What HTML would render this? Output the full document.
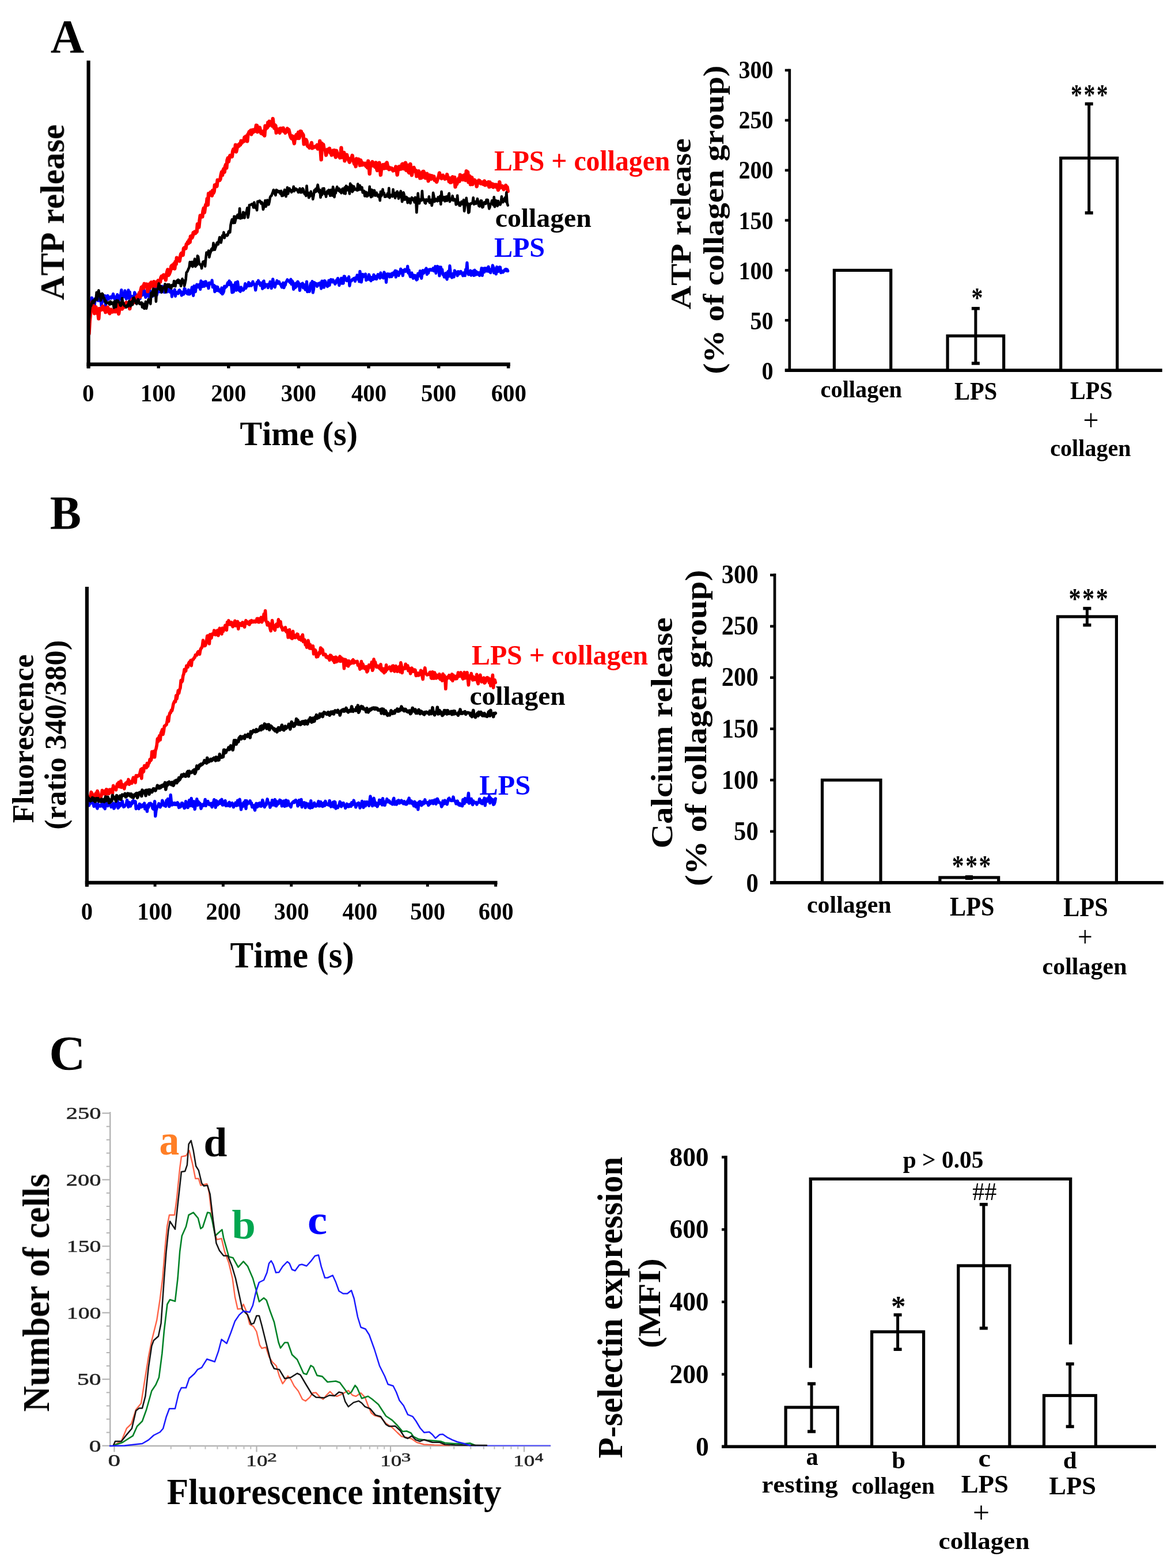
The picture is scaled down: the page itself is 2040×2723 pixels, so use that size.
<!DOCTYPE html>
<html lang="en"><head><meta charset="utf-8"><title>Figure</title>
<style>html,body{margin:0;padding:0;background:#fff;overflow:hidden}body{width:2040px;height:2723px}svg{display:block}text{font-family:"Liberation Serif",serif;font-kerning:none;font-variant-ligatures:none;white-space:pre}</style></head>
<body><svg width="2040" height="2723" viewBox="0 0 2040 2723" role="img" aria-label="Figure panels A, B and C">
<defs><filter id="soft" filterUnits="userSpaceOnUse" x="0" y="0" width="2040" height="2723"><feGaussianBlur stdDeviation="0.5"/></filter></defs>
<rect width="2040" height="2723" fill="#fff"/>
<g filter="url(#soft)">
<polyline points="154.5,540.1 155.7,534.6 156.9,523.8 158.1,527.5 159.3,517.0 160.5,519.2 161.7,528.9 162.9,527.9 164.1,530.5 165.3,518.7 166.5,519.9 167.7,519.9 168.9,520.6 170.1,522.0 171.3,511.8 172.5,522.2 173.7,513.7 174.9,519.1 176.1,531.2 177.3,518.9 178.5,517.6 179.7,523.1 180.9,517.8 182.1,513.6 183.3,531.3 184.5,515.8 185.7,521.0 186.9,513.4 188.1,519.8 189.3,516.4 190.5,516.4 191.7,515.4 192.9,517.8 194.1,516.9 195.3,514.1 196.5,510.5 197.7,515.1 198.9,519.1 200.1,515.8 201.3,515.3 202.5,519.8 203.7,511.6 204.9,513.4 206.1,516.4 207.3,520.5 208.5,518.5 209.7,511.4 210.9,503.5 212.1,514.6 213.3,513.7 214.5,508.8 215.7,515.5 216.9,504.8 218.1,508.8 219.3,519.1 220.5,508.9 221.7,512.3 222.9,503.9 224.1,518.3 225.3,507.2 226.5,523.7 227.7,516.7 228.9,514.6 230.1,523.4 231.3,520.2 232.5,521.4 233.7,507.9 234.9,511.0 236.1,518.5 237.3,512.8 238.5,512.3 239.7,513.9 240.9,511.6 242.1,511.9 243.3,518.4 244.5,510.8 245.7,513.1 246.9,512.6 248.1,505.9 249.3,501.5 250.5,505.0 251.7,512.5 252.9,516.4 254.1,513.9 255.3,510.0 256.5,504.3 257.7,507.1 258.9,516.0 260.1,504.4 261.3,514.7 262.5,507.7 263.7,507.0 264.9,514.6 266.1,512.4 267.3,508.5 268.5,504.1 269.7,494.1 270.9,510.2 272.1,512.5 273.3,508.3 274.5,505.2 275.7,502.3 276.9,506.6 278.1,506.9 279.3,506.2 280.5,506.9 281.7,497.0 282.9,506.2 284.1,504.1 285.3,507.6 286.5,507.0 287.7,501.4 288.9,507.1 290.1,507.0 291.3,502.5 292.5,495.2 293.7,502.0 294.9,507.1 296.1,503.5 297.3,504.0 298.5,515.1 299.7,506.6 300.9,508.1 302.1,507.0 303.3,502.9 304.5,514.3 305.7,507.3 306.9,509.1 308.1,509.4 309.3,509.8 310.5,504.5 311.7,503.8 312.9,507.5 314.1,506.4 315.3,513.0 316.5,508.9 317.7,507.2 318.9,511.0 320.1,501.4 321.3,501.8 322.5,508.4 323.7,506.2 324.9,510.1 326.1,510.5 327.3,503.4 328.5,511.0 329.7,510.8 330.9,505.2 332.1,505.0 333.3,499.0 334.5,507.5 335.7,513.4 336.9,496.5 338.1,502.1 339.3,506.6 340.5,498.6 341.7,494.1 342.9,495.7 344.1,498.5 345.3,496.1 346.5,493.7 347.7,502.5 348.9,487.9 350.1,492.4 351.3,497.8 352.5,490.0 353.7,493.4 354.9,497.2 356.1,489.0 357.3,488.9 358.5,492.0 359.7,496.3 360.9,493.9 362.1,500.7 363.3,491.2 364.5,492.6 365.7,492.7 366.9,493.0 368.1,486.9 369.3,498.7 370.5,495.1 371.7,495.5 372.9,506.7 374.1,497.3 375.3,503.6 376.5,504.5 377.7,498.2 378.9,502.9 380.1,505.2 381.3,503.2 382.5,506.3 383.7,508.3 384.9,499.8 386.1,510.6 387.3,509.1 388.5,506.3 389.7,497.2 390.9,499.8 392.1,497.4 393.3,497.6 394.5,493.4 395.7,490.6 396.9,494.4 398.1,487.8 399.3,494.4 400.5,490.4 401.7,496.0 402.9,508.0 404.1,495.0 405.3,507.2 406.5,498.8 407.7,495.2 408.9,490.7 410.1,504.2 411.3,498.2 412.5,489.2 413.7,497.3 414.9,504.1 416.1,505.0 417.3,506.2 418.5,498.9 419.7,501.5 420.9,503.5 422.1,504.1 423.3,503.0 424.5,499.2 425.7,492.6 426.9,500.5 428.1,494.9 429.3,497.1 430.5,495.6 431.7,490.5 432.9,496.4 434.1,492.4 435.3,494.9 436.5,496.0 437.7,493.7 438.9,489.1 440.1,492.4 441.3,493.8 442.5,495.9 443.7,503.9 444.9,496.8 446.1,490.5 447.3,491.0 448.5,487.2 449.7,492.5 450.9,490.4 452.1,495.7 453.3,491.9 454.5,492.1 455.7,501.5 456.9,489.2 458.1,488.1 459.3,499.2 460.5,493.5 461.7,495.9 462.9,494.3 464.1,494.7 465.3,499.7 466.5,493.4 467.7,496.4 468.9,489.4 470.1,493.3 471.3,500.6 472.5,494.5 473.7,484.8 474.9,490.4 476.1,497.2 477.3,498.7 478.5,493.5 479.7,491.6 480.9,487.4 482.1,492.2 483.3,490.8 484.5,489.3 485.7,492.7 486.9,493.9 488.1,496.0 489.3,498.8 490.5,493.2 491.7,491.3 492.9,499.6 494.1,496.1 495.3,495.1 496.5,489.8 497.7,488.8 498.9,485.7 500.1,487.5 501.3,487.6 502.5,489.4 503.7,490.8 504.9,485.1 506.1,493.7 507.3,487.9 508.5,490.1 509.7,502.4 510.9,492.6 512.1,499.8 513.3,498.9 514.5,491.6 515.7,496.6 516.9,489.0 518.1,490.9 519.3,493.4 520.5,504.4 521.7,494.4 522.9,493.4 524.1,492.7 525.3,492.0 526.5,499.9 527.7,499.4 528.9,494.7 530.1,503.1 531.3,501.1 532.5,489.2 533.7,506.7 534.9,500.2 536.1,502.9 537.3,506.2 538.5,496.2 539.7,491.8 540.9,499.2 542.1,488.7 543.3,508.1 544.5,502.8 545.7,490.5 546.9,492.2 548.1,494.7 549.3,492.5 550.5,497.3 551.7,494.8 552.9,492.4 554.1,494.9 555.3,491.3 556.5,494.1 557.7,501.1 558.9,488.0 560.1,493.5 561.3,488.4 562.5,499.2 563.7,487.7 564.9,488.8 566.1,495.4 567.3,494.8 568.5,497.6 569.7,495.4 570.9,487.0 572.1,495.4 573.3,488.0 574.5,485.4 575.7,487.7 576.9,489.7 578.1,485.9 579.3,489.9 580.5,490.0 581.7,493.2 582.9,491.5 584.1,486.7 585.3,487.1 586.5,483.3 587.7,489.0 588.9,495.6 590.1,488.8 591.3,487.9 592.5,483.2 593.7,492.1 594.9,483.2 596.1,492.1 597.3,479.8 598.5,480.1 599.7,486.3 600.9,484.7 602.1,487.5 603.3,483.7 604.5,487.6 605.7,480.6 606.9,496.3 608.1,489.0 609.3,487.7 610.5,487.6 611.7,485.0 612.9,485.0 614.1,483.5 615.3,483.1 616.5,488.4 617.7,482.2 618.9,483.5 620.1,477.8 621.3,484.9 622.5,480.1 623.7,489.0 624.9,471.3 626.1,477.7 627.3,490.0 628.5,483.5 629.7,476.4 630.9,480.4 632.1,478.8 633.3,479.1 634.5,475.9 635.7,486.7 636.9,483.1 638.1,484.2 639.3,485.0 640.5,476.9 641.7,480.0 642.9,486.0 644.1,487.6 645.3,481.7 646.5,484.8 647.7,485.3 648.9,477.1 650.1,482.6 651.3,484.1 652.5,479.9 653.7,484.7 654.9,481.2 656.1,476.6 657.3,479.2 658.5,477.8 659.7,483.0 660.9,473.9 662.1,480.5 663.3,481.4 664.5,480.9 665.7,482.8 666.9,472.8 668.1,477.2 669.3,475.8 670.5,490.3 671.7,478.2 672.9,475.6 674.1,475.9 675.3,476.1 676.5,480.9 677.7,476.0 678.9,477.9 680.1,480.5 681.3,474.3 682.5,477.5 683.7,473.4 684.9,472.6 686.1,470.2 687.3,481.1 688.5,470.9 689.7,476.4 690.9,477.6 692.1,478.5 693.3,472.2 694.5,474.6 695.7,467.0 696.9,472.4 698.1,471.8 699.3,478.6 700.5,469.3 701.7,471.4 702.9,467.9 704.1,471.4 705.3,470.9 706.5,470.5 707.7,462.4 708.9,474.2 710.1,469.0 711.3,477.3 712.5,480.5 713.7,476.7 714.9,473.9 716.1,480.4 717.3,483.3 718.5,478.0 719.7,479.6 720.9,478.4 722.1,484.1 723.3,486.1 724.5,485.1 725.7,475.1 726.9,475.4 728.1,479.1 729.3,470.5 730.5,473.1 731.7,483.3 732.9,475.5 734.1,469.6 735.3,474.6 736.5,472.9 737.7,469.8 738.9,467.7 740.1,466.0 741.3,476.5 742.5,472.0 743.7,474.3 744.9,468.1 746.1,469.3 747.3,467.7 748.5,468.4 749.7,469.3 750.9,467.7 752.1,465.8 753.3,470.5 754.5,470.0 755.7,462.7 756.9,474.4 758.1,463.8 759.3,462.5 760.5,468.0 761.7,463.6 762.9,479.0 764.1,471.3 765.3,463.9 766.5,473.3 767.7,468.0 768.9,477.0 770.1,477.1 771.3,481.1 772.5,478.2 773.7,474.4 774.9,482.2 776.1,485.1 777.3,472.4 778.5,471.0 779.7,479.8 780.9,461.7 782.1,472.6 783.3,479.3 784.5,482.1 785.7,475.5 786.9,480.9 788.1,480.9 789.3,469.9 790.5,471.9 791.7,473.4 792.9,472.9 794.1,478.8 795.3,471.6 796.5,474.3 797.7,475.6 798.9,471.7 800.1,471.3 801.3,473.9 802.5,475.8 803.7,478.8 804.9,474.0 806.1,473.3 807.3,478.7 808.5,468.1 809.7,469.3 810.9,456.3 812.1,473.5 813.3,476.7 814.5,474.4 815.7,476.4 816.9,470.0 818.1,478.1 819.3,473.8 820.5,475.8 821.7,470.6 822.9,478.5 824.1,469.0 825.3,477.5 826.5,471.4 827.7,472.5 828.9,476.4 830.1,476.0 831.3,473.5 832.5,478.5 833.7,474.0 834.9,472.6 836.1,465.7 837.3,478.4 838.5,466.2 839.7,469.9 840.9,472.5 842.1,465.7 843.3,467.6 844.5,466.1 845.7,471.0 846.9,467.9 848.1,463.2 849.3,471.6 850.5,469.0 851.7,473.7 852.9,467.6 854.1,469.6 855.3,460.9 856.5,463.7 857.7,474.0 858.9,469.5 860.1,467.0 861.3,476.0 862.5,463.7 863.7,465.4 864.9,471.6 866.1,470.6 867.3,463.8 868.5,464.1 869.7,473.7 870.9,471.0 872.1,470.9 873.3,472.8 874.5,471.3 875.7,469.3 876.9,468.1 878.1,467.4 879.3,470.2 880.5,468.0 881.7,470.6" fill="none" stroke="#0000ff" stroke-width="5.2" stroke-linejoin="round" stroke-linecap="round"/>
<polyline points="154.5,579.6 155.7,557.7 156.9,546.4 158.1,535.0 159.3,527.0 160.5,524.3 161.7,532.7 162.9,535.4 164.1,544.3 165.3,536.3 166.5,533.3 167.7,541.8 168.9,544.1 170.1,542.1 171.3,553.2 172.5,535.9 173.7,537.9 174.9,538.3 176.1,535.5 177.3,535.4 178.5,532.1 179.7,537.7 180.9,534.8 182.1,536.7 183.3,542.2 184.5,535.8 185.7,534.3 186.9,533.7 188.1,536.3 189.3,542.3 190.5,544.2 191.7,538.3 192.9,537.5 194.1,541.3 195.3,541.6 196.5,540.7 197.7,540.1 198.9,537.3 200.1,541.2 201.3,538.0 202.5,527.3 203.7,538.6 204.9,541.6 206.1,544.9 207.3,536.7 208.5,527.7 209.7,533.8 210.9,525.8 212.1,536.5 213.3,531.9 214.5,529.4 215.7,529.8 216.9,533.3 218.1,526.6 219.3,525.4 220.5,530.1 221.7,530.3 222.9,526.7 224.1,526.7 225.3,536.1 226.5,526.5 227.7,523.1 228.9,522.0 230.1,519.7 231.3,521.4 232.5,525.4 233.7,519.5 234.9,520.3 236.1,521.5 237.3,515.5 238.5,519.3 239.7,512.3 240.9,514.0 242.1,508.2 243.3,515.7 244.5,503.8 245.7,499.0 246.9,500.4 248.1,497.1 249.3,500.5 250.5,492.8 251.7,496.7 252.9,496.2 254.1,493.5 255.3,494.5 256.5,506.1 257.7,493.9 258.9,500.8 260.1,500.3 261.3,492.1 262.5,490.4 263.7,494.3 264.9,493.2 266.1,497.6 267.3,489.2 268.5,493.8 269.7,491.8 270.9,496.7 272.1,489.8 273.3,490.3 274.5,487.2 275.7,492.4 276.9,487.0 278.1,489.7 279.3,482.4 280.5,479.9 281.7,482.5 282.9,479.1 284.1,477.6 285.3,480.3 286.5,479.3 287.7,486.3 288.9,477.5 290.1,472.2 291.3,468.3 292.5,477.9 293.7,476.2 294.9,473.1 296.1,469.3 297.3,462.7 298.5,461.0 299.7,466.0 300.9,463.5 302.1,458.1 303.3,466.5 304.5,454.8 305.7,458.8 306.9,447.7 308.1,450.7 309.3,450.4 310.5,450.2 311.7,453.3 312.9,446.3 314.1,441.1 315.3,439.7 316.5,441.2 317.7,442.9 318.9,431.5 320.1,430.3 321.3,431.6 322.5,431.4 323.7,423.9 324.9,423.2 326.1,420.2 327.3,422.4 328.5,416.5 329.7,420.6 330.9,410.4 332.1,409.9 333.3,413.1 334.5,410.1 335.7,403.9 336.9,405.9 338.1,402.5 339.3,405.0 340.5,403.5 341.7,402.5 342.9,389.2 344.1,389.9 345.3,394.7 346.5,383.0 347.7,374.5 348.9,375.1 350.1,374.1 351.3,376.5 352.5,366.8 353.7,361.6 354.9,369.0 356.1,360.3 357.3,355.4 358.5,356.3 359.7,345.2 360.9,355.8 362.1,336.3 363.3,339.4 364.5,336.9 365.7,333.8 366.9,338.2 368.1,339.6 369.3,330.8 370.5,335.1 371.7,332.4 372.9,321.4 374.1,322.7 375.3,320.3 376.5,323.4 377.7,312.8 378.9,313.6 380.1,312.7 381.3,313.1 382.5,310.9 383.7,303.6 384.9,298.8 386.1,304.2 387.3,296.1 388.5,293.2 389.7,298.9 390.9,289.3 392.1,285.9 393.3,291.7 394.5,278.2 395.7,274.6 396.9,280.7 398.1,274.4 399.3,270.4 400.5,272.3 401.7,269.7 402.9,271.9 404.1,262.8 405.3,259.2 406.5,261.1 407.7,262.3 408.9,251.6 410.1,263.5 411.3,258.3 412.5,252.0 413.7,252.1 414.9,253.6 416.1,249.8 417.3,251.5 418.5,244.7 419.7,248.3 420.9,245.4 422.1,244.5 423.3,245.3 424.5,238.5 425.7,244.3 426.9,236.7 428.1,238.4 429.3,245.3 430.5,233.3 431.7,231.6 432.9,228.5 434.1,228.2 435.3,226.6 436.5,233.3 437.7,226.1 438.9,230.0 440.1,225.6 441.3,226.7 442.5,228.0 443.7,225.6 444.9,217.7 446.1,218.1 447.3,229.1 448.5,221.6 449.7,225.0 450.9,221.6 452.1,227.2 453.3,231.5 454.5,230.5 455.7,228.6 456.9,233.3 458.1,227.4 459.3,235.5 460.5,218.6 461.7,223.9 462.9,220.7 464.1,221.5 465.3,212.7 466.5,218.6 467.7,210.8 468.9,213.6 470.1,215.5 471.3,214.2 472.5,218.7 473.7,206.3 474.9,217.0 476.1,222.4 477.3,217.2 478.5,218.6 479.7,230.6 480.9,223.9 482.1,227.1 483.3,224.6 484.5,226.6 485.7,230.6 486.9,223.0 488.1,223.1 489.3,226.9 490.5,222.9 491.7,222.5 492.9,228.0 494.1,227.0 495.3,230.8 496.5,226.0 497.7,228.7 498.9,223.3 500.1,228.1 501.3,225.3 502.5,230.0 503.7,234.8 504.9,238.4 506.1,240.3 507.3,236.2 508.5,237.2 509.7,243.6 510.9,249.2 512.1,237.8 513.3,236.6 514.5,234.1 515.7,240.1 516.9,233.9 518.1,229.9 519.3,240.0 520.5,236.3 521.7,228.0 522.9,228.4 524.1,233.3 525.3,232.4 526.5,234.7 527.7,250.3 528.9,241.9 530.1,245.3 531.3,242.7 532.5,245.2 533.7,252.7 534.9,254.4 536.1,254.2 537.3,256.7 538.5,254.7 539.7,253.0 540.9,247.9 542.1,257.4 543.3,256.6 544.5,256.0 545.7,255.2 546.9,254.6 548.1,255.3 549.3,254.2 550.5,251.9 551.7,258.5 552.9,255.4 554.1,257.9 555.3,245.0 556.5,260.1 557.7,277.2 558.9,249.0 560.1,253.9 561.3,251.0 562.5,258.2 563.7,260.1 564.9,261.6 566.1,269.4 567.3,264.1 568.5,259.8 569.7,259.9 570.9,260.0 572.1,257.8 573.3,265.3 574.5,263.0 575.7,269.3 576.9,266.8 578.1,261.5 579.3,264.4 580.5,261.1 581.7,269.6 582.9,273.0 584.1,261.8 585.3,265.8 586.5,268.7 587.7,269.4 588.9,271.7 590.1,273.8 591.3,269.1 592.5,256.8 593.7,273.4 594.9,268.7 596.1,272.0 597.3,264.9 598.5,279.2 599.7,269.1 600.9,271.3 602.1,268.8 603.3,274.0 604.5,276.4 605.7,278.9 606.9,281.6 608.1,275.4 609.3,276.9 610.5,274.2 611.7,270.0 612.9,278.3 614.1,281.1 615.3,284.7 616.5,279.3 617.7,289.0 618.9,275.8 620.1,279.4 621.3,277.7 622.5,276.7 623.7,279.9 624.9,287.1 626.1,278.2 627.3,281.3 628.5,286.5 629.7,284.5 630.9,283.5 632.1,284.7 633.3,286.4 634.5,283.7 635.7,288.7 636.9,287.7 638.1,291.1 639.3,279.8 640.5,285.6 641.7,301.8 642.9,287.0 644.1,286.7 645.3,283.5 646.5,281.1 647.7,287.7 648.9,286.0 650.1,285.9 651.3,290.1 652.5,282.4 653.7,291.6 654.9,295.9 656.1,291.6 657.3,294.0 658.5,282.7 659.7,291.3 660.9,303.9 662.1,292.9 663.3,287.9 664.5,286.5 665.7,290.3 666.9,292.3 668.1,285.6 669.3,291.7 670.5,291.8 671.7,282.5 672.9,287.9 674.1,290.0 675.3,294.2 676.5,293.9 677.7,291.7 678.9,292.5 680.1,292.2 681.3,294.1 682.5,296.5 683.7,294.2 684.9,295.3 686.1,294.3 687.3,289.5 688.5,293.9 689.7,303.6 690.9,294.5 692.1,289.9 693.3,289.2 694.5,293.7 695.7,290.2 696.9,293.2 698.1,285.0 699.3,284.7 700.5,291.7 701.7,293.0 702.9,292.1 704.1,282.6 705.3,295.6 706.5,292.2 707.7,286.8 708.9,297.9 710.1,299.9 711.3,293.3 712.5,285.0 713.7,297.7 714.9,304.2 716.1,296.8 717.3,296.5 718.5,291.0 719.7,294.9 720.9,297.8 722.1,296.2 723.3,306.1 724.5,297.3 725.7,305.4 726.9,297.2 728.1,299.6 729.3,309.3 730.5,308.0 731.7,308.9 732.9,302.2 734.1,298.1 735.3,297.7 736.5,300.3 737.7,308.7 738.9,309.1 740.1,305.9 741.3,301.7 742.5,306.1 743.7,314.3 744.9,306.4 746.1,304.4 747.3,306.4 748.5,310.8 749.7,305.3 750.9,306.3 752.1,307.1 753.3,306.6 754.5,313.0 755.7,313.2 756.9,313.8 758.1,316.0 759.3,312.0 760.5,309.2 761.7,306.4 762.9,300.4 764.1,305.1 765.3,307.9 766.5,309.9 767.7,305.6 768.9,304.6 770.1,308.8 771.3,307.0 772.5,310.8 773.7,307.2 774.9,309.3 776.1,303.1 777.3,310.2 778.5,308.0 779.7,315.1 780.9,313.3 782.1,316.9 783.3,316.7 784.5,308.3 785.7,307.4 786.9,310.6 788.1,315.5 789.3,308.0 790.5,324.6 791.7,318.4 792.9,319.8 794.1,316.6 795.3,312.0 796.5,309.6 797.7,314.9 798.9,303.8 800.1,311.4 801.3,309.9 802.5,305.7 803.7,312.1 804.9,304.7 806.1,307.7 807.3,303.5 808.5,313.1 809.7,297.2 810.9,308.4 812.1,298.6 813.3,316.2 814.5,305.4 815.7,306.3 816.9,320.2 818.1,312.9 819.3,308.3 820.5,320.1 821.7,314.7 822.9,314.9 824.1,312.7 825.3,316.3 826.5,314.8 827.7,323.8 828.9,317.2 830.1,317.7 831.3,313.3 832.5,313.7 833.7,315.7 834.9,318.7 836.1,316.2 837.3,316.6 838.5,319.6 839.7,320.2 840.9,314.4 842.1,321.4 843.3,320.5 844.5,317.3 845.7,320.9 846.9,321.0 848.1,316.0 849.3,324.5 850.5,316.5 851.7,323.9 852.9,319.2 854.1,322.2 855.3,319.6 856.5,325.1 857.7,323.2 858.9,320.9 860.1,322.2 861.3,321.0 862.5,325.6 863.7,321.4 864.9,329.9 866.1,326.4 867.3,316.1 868.5,326.0 869.7,324.5 870.9,323.3 872.1,323.2 873.3,324.7 874.5,328.9 875.7,326.7 876.9,325.4 878.1,322.1 879.3,325.6 880.5,324.9 881.7,332.1" fill="none" stroke="#ff0000" stroke-width="6.4" stroke-linejoin="round" stroke-linecap="round"/>
<polyline points="154.5,559.6 155.7,543.3 156.9,530.9 158.1,531.1 159.3,526.9 160.5,523.1 161.7,522.0 162.9,526.1 164.1,523.5 165.3,519.0 166.5,520.1 167.7,507.8 168.9,520.5 170.1,509.6 171.3,504.3 172.5,513.4 173.7,510.3 174.9,521.7 176.1,518.8 177.3,509.8 178.5,511.1 179.7,516.8 180.9,517.6 182.1,523.4 183.3,522.0 184.5,526.7 185.7,526.0 186.9,525.9 188.1,525.3 189.3,527.6 190.5,528.7 191.7,523.5 192.9,527.7 194.1,527.5 195.3,525.6 196.5,525.8 197.7,534.4 198.9,523.2 200.1,523.5 201.3,533.1 202.5,521.7 203.7,523.2 204.9,522.4 206.1,524.5 207.3,525.5 208.5,530.0 209.7,530.9 210.9,528.6 212.1,518.1 213.3,525.3 214.5,526.5 215.7,530.6 216.9,531.6 218.1,531.3 219.3,533.5 220.5,530.3 221.7,532.2 222.9,528.0 224.1,523.2 225.3,526.8 226.5,531.8 227.7,526.7 228.9,523.4 230.1,529.3 231.3,517.5 232.5,517.2 233.7,519.7 234.9,522.9 236.1,526.2 237.3,527.8 238.5,522.0 239.7,519.7 240.9,522.2 242.1,527.6 243.3,528.0 244.5,526.1 245.7,525.5 246.9,533.4 248.1,527.2 249.3,534.7 250.5,535.7 251.7,530.9 252.9,523.9 254.1,535.8 255.3,529.7 256.5,525.2 257.7,519.9 258.9,523.6 260.1,523.9 261.3,527.8 262.5,508.6 263.7,514.7 264.9,507.6 266.1,501.5 267.3,513.0 268.5,512.7 269.7,502.6 270.9,523.7 272.1,504.3 273.3,502.6 274.5,500.1 275.7,492.3 276.9,495.7 278.1,503.1 279.3,496.9 280.5,507.6 281.7,505.0 282.9,500.0 284.1,498.7 285.3,498.9 286.5,493.3 287.7,507.4 288.9,501.4 290.1,494.4 291.3,494.1 292.5,497.9 293.7,494.2 294.9,495.7 296.1,500.0 297.3,500.5 298.5,495.0 299.7,495.4 300.9,496.6 302.1,488.0 303.3,492.1 304.5,497.2 305.7,489.9 306.9,487.7 308.1,490.6 309.3,485.8 310.5,491.3 311.7,487.2 312.9,490.7 314.1,496.7 315.3,491.3 316.5,484.3 317.7,490.7 318.9,487.2 320.1,496.7 321.3,491.6 322.5,485.8 323.7,473.2 324.9,472.1 326.1,469.7 327.3,466.6 328.5,464.4 329.7,455.1 330.9,459.7 332.1,461.4 333.3,454.8 334.5,463.1 335.7,456.9 336.9,454.9 338.1,449.7 339.3,462.9 340.5,459.7 341.7,460.3 342.9,444.4 344.1,445.6 345.3,454.5 346.5,459.1 347.7,459.8 348.9,459.5 350.1,466.1 351.3,458.8 352.5,454.5 353.7,457.5 354.9,453.7 356.1,462.5 357.3,449.1 358.5,438.5 359.7,441.8 360.9,441.4 362.1,435.4 363.3,446.7 364.5,440.9 365.7,437.8 366.9,432.9 368.1,431.4 369.3,434.4 370.5,422.1 371.7,426.6 372.9,433.7 374.1,430.0 375.3,427.1 376.5,422.1 377.7,420.8 378.9,424.3 380.1,417.6 381.3,412.0 382.5,416.6 383.7,421.3 384.9,415.3 386.1,409.2 387.3,410.8 388.5,403.4 389.7,413.3 390.9,408.5 392.1,408.9 393.3,407.8 394.5,409.3 395.7,407.5 396.9,402.0 398.1,401.3 399.3,403.5 400.5,390.7 401.7,384.9 402.9,381.0 404.1,381.2 405.3,387.2 406.5,375.7 407.7,387.0 408.9,382.1 410.1,376.0 411.3,378.4 412.5,373.1 413.7,377.9 414.9,378.6 416.1,362.0 417.3,379.4 418.5,378.9 419.7,373.4 420.9,378.3 422.1,368.6 423.3,369.3 424.5,378.5 425.7,370.1 426.9,370.4 428.1,367.1 429.3,361.0 430.5,377.8 431.7,371.6 432.9,356.1 434.1,356.1 435.3,355.5 436.5,355.1 437.7,354.1 438.9,355.8 440.1,360.4 441.3,351.5 442.5,357.7 443.7,361.0 444.9,358.5 446.1,365.0 447.3,349.7 448.5,350.8 449.7,349.6 450.9,348.6 452.1,350.3 453.3,353.3 454.5,351.2 455.7,354.4 456.9,363.7 458.1,359.8 459.3,353.8 460.5,348.2 461.7,358.7 462.9,355.6 464.1,347.6 465.3,350.9 466.5,355.3 467.7,350.4 468.9,343.0 470.1,340.5 471.3,339.9 472.5,336.6 473.7,333.7 474.9,329.8 476.1,333.3 477.3,337.1 478.5,339.0 479.7,329.9 480.9,330.4 482.1,333.0 483.3,333.7 484.5,331.9 485.7,333.2 486.9,336.6 488.1,331.5 489.3,340.2 490.5,338.2 491.7,339.6 492.9,333.4 494.1,329.7 495.3,331.3 496.5,341.3 497.7,335.6 498.9,325.6 500.1,336.5 501.3,331.9 502.5,327.3 503.7,329.4 504.9,330.3 506.1,333.8 507.3,330.3 508.5,331.7 509.7,324.0 510.9,332.0 512.1,327.7 513.3,327.5 514.5,329.5 515.7,329.0 516.9,332.1 518.1,334.1 519.3,331.4 520.5,327.3 521.7,334.2 522.9,332.4 524.1,334.0 525.3,327.3 526.5,328.8 527.7,334.0 528.9,337.0 530.1,335.6 531.3,340.1 532.5,322.7 533.7,336.6 534.9,334.4 536.1,343.3 537.3,341.6 538.5,339.7 539.7,332.6 540.9,339.3 542.1,336.7 543.3,345.9 544.5,339.8 545.7,330.6 546.9,333.7 548.1,328.0 549.3,332.5 550.5,326.1 551.7,320.9 552.9,327.7 554.1,333.8 555.3,329.8 556.5,343.0 557.7,336.6 558.9,338.5 560.1,327.5 561.3,328.4 562.5,327.1 563.7,337.0 564.9,334.2 566.1,341.7 567.3,334.0 568.5,331.7 569.7,336.0 570.9,329.9 572.1,335.6 573.3,339.8 574.5,329.8 575.7,336.0 576.9,339.6 578.1,324.5 579.3,329.6 580.5,342.2 581.7,333.9 582.9,335.2 584.1,327.8 585.3,324.4 586.5,330.2 587.7,331.0 588.9,327.7 590.1,332.8 591.3,330.0 592.5,335.3 593.7,329.3 594.9,327.8 596.1,330.0 597.3,335.7 598.5,325.6 599.7,336.4 600.9,322.9 602.1,330.5 603.3,324.5 604.5,328.6 605.7,327.3 606.9,336.5 608.1,318.8 609.3,328.3 610.5,321.6 611.7,333.1 612.9,331.1 614.1,323.6 615.3,326.5 616.5,329.4 617.7,329.0 618.9,327.9 620.1,330.6 621.3,319.6 622.5,329.9 623.7,323.8 624.9,322.1 626.1,329.3 627.3,328.6 628.5,325.5 629.7,334.4 630.9,332.8 632.1,331.6 633.3,340.5 634.5,337.8 635.7,333.6 636.9,340.9 638.1,340.5 639.3,334.8 640.5,338.9 641.7,324.1 642.9,337.1 644.1,342.2 645.3,329.6 646.5,341.0 647.7,330.7 648.9,335.1 650.1,330.7 651.3,339.6 652.5,335.3 653.7,334.7 654.9,339.5 656.1,341.1 657.3,338.4 658.5,340.3 659.7,348.2 660.9,332.9 662.1,340.4 663.3,337.6 664.5,328.9 665.7,336.8 666.9,335.3 668.1,341.8 669.3,341.7 670.5,339.3 671.7,340.9 672.9,335.9 674.1,341.3 675.3,326.8 676.5,343.5 677.7,339.1 678.9,338.8 680.1,338.9 681.3,341.3 682.5,329.1 683.7,338.4 684.9,340.5 686.1,343.8 687.3,334.9 688.5,340.2 689.7,332.6 690.9,336.2 692.1,344.9 693.3,341.0 694.5,335.3 695.7,331.9 696.9,339.7 698.1,350.2 699.3,346.5 700.5,334.2 701.7,338.1 702.9,346.8 704.1,345.4 705.3,342.0 706.5,343.0 707.7,352.2 708.9,346.8 710.1,344.8 711.3,349.3 712.5,353.0 713.7,345.5 714.9,343.2 716.1,343.9 717.3,347.6 718.5,345.5 719.7,351.3 720.9,342.7 722.1,345.6 723.3,369.0 724.5,352.0 725.7,335.9 726.9,348.3 728.1,353.2 729.3,346.5 730.5,347.2 731.7,348.1 732.9,331.8 734.1,347.1 735.3,345.4 736.5,348.0 737.7,352.3 738.9,353.3 740.1,346.4 741.3,348.4 742.5,347.7 743.7,349.4 744.9,341.2 746.1,352.2 747.3,351.7 748.5,347.1 749.7,357.0 750.9,350.9 752.1,334.9 753.3,340.6 754.5,350.1 755.7,345.2 756.9,347.9 758.1,348.2 759.3,349.4 760.5,342.5 761.7,344.3 762.9,348.7 764.1,340.5 765.3,354.8 766.5,332.9 767.7,344.7 768.9,347.6 770.1,344.1 771.3,342.2 772.5,349.4 773.7,342.6 774.9,341.4 776.1,348.7 777.3,342.2 778.5,339.3 779.7,335.8 780.9,350.2 782.1,348.1 783.3,346.4 784.5,346.1 785.7,340.2 786.9,348.1 788.1,347.9 789.3,345.9 790.5,347.0 791.7,355.3 792.9,354.6 794.1,339.5 795.3,353.3 796.5,351.3 797.7,356.9 798.9,357.1 800.1,352.6 801.3,350.2 802.5,354.5 803.7,351.9 804.9,347.2 806.1,366.7 807.3,358.5 808.5,353.1 809.7,343.9 810.9,354.1 812.1,353.1 813.3,369.5 814.5,368.5 815.7,354.7 816.9,353.5 818.1,353.9 819.3,352.8 820.5,352.0 821.7,343.2 822.9,354.8 824.1,352.4 825.3,350.5 826.5,353.7 827.7,350.5 828.9,345.2 830.1,350.8 831.3,357.3 832.5,358.4 833.7,351.0 834.9,348.4 836.1,348.6 837.3,360.1 838.5,359.5 839.7,354.4 840.9,351.5 842.1,352.6 843.3,353.9 844.5,347.1 845.7,346.9 846.9,347.3 848.1,355.1 849.3,362.5 850.5,359.4 851.7,354.2 852.9,352.8 854.1,348.3 855.3,352.6 856.5,356.1 857.7,342.3 858.9,359.2 860.1,347.8 861.3,356.2 862.5,348.7 863.7,357.6 864.9,349.1 866.1,355.2 867.3,353.5 868.5,355.3 869.7,352.2 870.9,341.3 872.1,349.9 873.3,351.0 874.5,346.1 875.7,346.2 876.9,343.1 878.1,350.0 879.3,334.3 880.5,352.7 881.7,356.6" fill="none" stroke="#000000" stroke-width="4.6" stroke-linejoin="round" stroke-linecap="round"/>
<line x1="153.6" y1="105.3" x2="153.6" y2="639.5" stroke="#000" stroke-width="6.2" stroke-linecap="butt"/>
<line x1="150.5" y1="632.7" x2="885.8" y2="632.7" stroke="#000" stroke-width="6.6" stroke-linecap="butt"/>
<line x1="153.6" y1="633.0" x2="153.6" y2="639.6" stroke="#000" stroke-width="5.6" stroke-linecap="butt"/>
<line x1="275.2" y1="633.0" x2="275.2" y2="639.6" stroke="#000" stroke-width="5.6" stroke-linecap="butt"/>
<line x1="396.8" y1="633.0" x2="396.8" y2="639.6" stroke="#000" stroke-width="5.6" stroke-linecap="butt"/>
<line x1="518.4" y1="633.0" x2="518.4" y2="639.6" stroke="#000" stroke-width="5.6" stroke-linecap="butt"/>
<line x1="640.0" y1="633.0" x2="640.0" y2="639.6" stroke="#000" stroke-width="5.6" stroke-linecap="butt"/>
<line x1="761.6" y1="633.0" x2="761.6" y2="639.6" stroke="#000" stroke-width="5.6" stroke-linecap="butt"/>
<line x1="882.6" y1="633.0" x2="882.6" y2="639.6" stroke="#000" stroke-width="5.6" stroke-linecap="butt"/>
<line x1="1370.8" y1="119.8" x2="1370.8" y2="645.5" stroke="#000" stroke-width="4.7" stroke-linecap="butt"/>
<line x1="1362.8" y1="643.1" x2="2017.8" y2="643.1" stroke="#000" stroke-width="5.8" stroke-linecap="butt"/>
<line x1="1362.8" y1="643.1" x2="1370.8" y2="643.1" stroke="#000" stroke-width="4.5" stroke-linecap="butt"/>
<line x1="1362.8" y1="556.2" x2="1370.8" y2="556.2" stroke="#000" stroke-width="4.5" stroke-linecap="butt"/>
<line x1="1362.8" y1="469.4" x2="1370.8" y2="469.4" stroke="#000" stroke-width="4.5" stroke-linecap="butt"/>
<line x1="1362.8" y1="382.6" x2="1370.8" y2="382.6" stroke="#000" stroke-width="4.5" stroke-linecap="butt"/>
<line x1="1362.8" y1="295.7" x2="1370.8" y2="295.7" stroke="#000" stroke-width="4.5" stroke-linecap="butt"/>
<line x1="1362.8" y1="208.9" x2="1370.8" y2="208.9" stroke="#000" stroke-width="4.5" stroke-linecap="butt"/>
<line x1="1362.8" y1="122.0" x2="1370.8" y2="122.0" stroke="#000" stroke-width="4.5" stroke-linecap="butt"/>
<rect x="1448.4" y="469.4" width="98.3" height="173.7" fill="#fff" stroke="#000" stroke-width="5.2"/>
<rect x="1645.1" y="583.3" width="97.6" height="59.8" fill="#fff" stroke="#000" stroke-width="5.2"/>
<line x1="1693.9" y1="535.7" x2="1693.9" y2="631.0" stroke="#000" stroke-width="5" stroke-linecap="butt"/>
<line x1="1686.9" y1="535.7" x2="1700.9" y2="535.7" stroke="#000" stroke-width="5.5" stroke-linecap="butt"/>
<line x1="1686.9" y1="631.0" x2="1700.9" y2="631.0" stroke="#000" stroke-width="5.5" stroke-linecap="butt"/>
<rect x="1841.7" y="274.5" width="98.0" height="368.6" fill="#fff" stroke="#000" stroke-width="5.2"/>
<line x1="1890.7" y1="180.4" x2="1890.7" y2="369.7" stroke="#000" stroke-width="5" stroke-linecap="butt"/>
<line x1="1883.7" y1="180.4" x2="1897.7" y2="180.4" stroke="#000" stroke-width="5.5" stroke-linecap="butt"/>
<line x1="1883.7" y1="369.7" x2="1897.7" y2="369.7" stroke="#000" stroke-width="5.5" stroke-linecap="butt"/>
<polyline points="151.0,1394.6 152.2,1397.2 153.4,1394.4 154.6,1398.7 155.8,1389.2 157.0,1395.0 158.2,1393.8 159.4,1394.1 160.6,1394.1 161.8,1394.6 163.0,1400.3 164.2,1392.2 165.4,1394.4 166.6,1396.5 167.8,1401.2 169.0,1404.0 170.2,1396.2 171.4,1400.4 172.6,1398.9 173.8,1399.9 175.0,1400.0 176.2,1396.7 177.4,1398.8 178.6,1393.7 179.8,1401.7 181.0,1400.8 182.2,1404.5 183.4,1394.7 184.6,1395.2 185.8,1399.4 187.0,1399.5 188.2,1397.5 189.4,1394.2 190.6,1397.3 191.8,1398.1 193.0,1401.4 194.2,1397.9 195.4,1398.5 196.6,1395.1 197.8,1404.1 199.0,1402.2 200.2,1398.1 201.4,1394.4 202.6,1391.8 203.8,1389.2 205.0,1403.2 206.2,1401.6 207.4,1395.0 208.6,1399.7 209.8,1396.9 211.0,1397.7 212.2,1391.1 213.4,1397.5 214.6,1401.2 215.8,1400.8 217.0,1398.7 218.2,1398.0 219.4,1396.1 220.6,1389.4 221.8,1398.0 223.0,1401.2 224.2,1393.5 225.4,1394.9 226.6,1400.0 227.8,1394.3 229.0,1396.0 230.2,1391.3 231.4,1390.3 232.6,1393.8 233.8,1393.6 235.0,1391.9 236.2,1404.5 237.4,1402.8 238.6,1400.1 239.8,1403.1 241.0,1404.3 242.2,1396.1 243.4,1398.4 244.6,1401.5 245.8,1401.3 247.0,1397.9 248.2,1397.7 249.4,1400.5 250.6,1395.0 251.8,1404.9 253.0,1403.8 254.2,1400.1 255.4,1409.1 256.6,1398.0 257.8,1402.1 259.0,1395.4 260.2,1398.3 261.4,1395.1 262.6,1396.7 263.8,1396.9 265.0,1403.8 266.2,1404.9 267.4,1402.8 268.6,1391.7 269.8,1417.3 271.0,1407.3 272.2,1403.4 273.4,1400.9 274.6,1399.1 275.8,1395.6 277.0,1398.1 278.2,1401.7 279.4,1397.8 280.6,1398.4 281.8,1390.2 283.0,1393.1 284.2,1397.8 285.4,1398.9 286.6,1397.3 287.8,1400.3 289.0,1390.3 290.2,1390.9 291.4,1387.5 292.6,1392.9 293.8,1400.6 295.0,1398.1 296.2,1380.4 297.4,1392.5 298.6,1398.0 299.8,1394.4 301.0,1396.1 302.2,1397.1 303.4,1394.5 304.6,1397.3 305.8,1395.6 307.0,1397.4 308.2,1393.8 309.4,1395.4 310.6,1402.4 311.8,1398.0 313.0,1401.4 314.2,1400.2 315.4,1394.8 316.6,1394.7 317.8,1397.4 319.0,1401.1 320.2,1403.4 321.4,1402.3 322.6,1391.8 323.8,1397.5 325.0,1395.4 326.2,1402.4 327.4,1396.0 328.6,1389.7 329.8,1399.3 331.0,1399.1 332.2,1386.4 333.4,1398.2 334.6,1400.1 335.8,1399.4 337.0,1391.8 338.2,1405.4 339.4,1398.4 340.6,1397.7 341.8,1387.8 343.0,1398.4 344.2,1392.0 345.4,1396.7 346.6,1394.5 347.8,1395.8 349.0,1404.2 350.2,1400.5 351.4,1399.0 352.6,1396.8 353.8,1399.0 355.0,1395.0 356.2,1388.4 357.4,1399.4 358.6,1393.8 359.8,1394.4 361.0,1391.6 362.2,1396.6 363.4,1397.4 364.6,1395.5 365.8,1395.2 367.0,1399.2 368.2,1401.4 369.4,1394.2 370.6,1393.8 371.8,1388.7 373.0,1393.5 374.2,1402.2 375.4,1390.4 376.6,1392.3 377.8,1397.9 379.0,1393.0 380.2,1392.4 381.4,1395.4 382.6,1390.2 383.8,1392.3 385.0,1388.3 386.2,1398.0 387.4,1397.8 388.6,1397.2 389.8,1391.9 391.0,1390.6 392.2,1399.4 393.4,1397.7 394.6,1398.9 395.8,1399.0 397.0,1394.4 398.2,1393.4 399.4,1399.9 400.6,1396.6 401.8,1395.2 403.0,1394.6 404.2,1396.7 405.4,1401.7 406.6,1397.4 407.8,1397.5 409.0,1394.1 410.2,1399.0 411.4,1398.9 412.6,1390.2 413.8,1394.1 415.0,1398.0 416.2,1388.3 417.4,1396.1 418.6,1405.8 419.8,1395.9 421.0,1400.6 422.2,1400.2 423.4,1393.5 424.6,1397.9 425.8,1390.5 427.0,1404.2 428.2,1390.7 429.4,1396.4 430.6,1394.6 431.8,1394.4 433.0,1394.2 434.2,1390.7 435.4,1396.2 436.6,1394.5 437.8,1401.6 439.0,1398.5 440.2,1399.0 441.4,1403.4 442.6,1407.0 443.8,1397.4 445.0,1395.3 446.2,1401.6 447.4,1397.7 448.6,1395.7 449.8,1399.7 451.0,1394.5 452.2,1397.8 453.4,1400.2 454.6,1396.5 455.8,1389.4 457.0,1393.9 458.2,1399.0 459.4,1401.5 460.6,1396.4 461.8,1398.1 463.0,1392.5 464.2,1387.8 465.4,1393.3 466.6,1395.0 467.8,1396.2 469.0,1402.1 470.2,1394.4 471.4,1398.6 472.6,1389.7 473.8,1393.5 475.0,1397.9 476.2,1395.7 477.4,1388.6 478.6,1399.4 479.8,1399.7 481.0,1392.0 482.2,1396.6 483.4,1395.0 484.6,1395.0 485.8,1389.3 487.0,1391.7 488.2,1390.8 489.4,1399.8 490.6,1396.1 491.8,1398.1 493.0,1391.0 494.2,1400.4 495.4,1399.2 496.6,1389.8 497.8,1399.4 499.0,1392.6 500.2,1391.0 501.4,1396.1 502.6,1399.0 503.8,1398.5 505.0,1401.5 506.2,1396.1 507.4,1394.3 508.6,1392.9 509.8,1391.9 511.0,1393.6 512.2,1390.4 513.4,1389.6 514.6,1391.7 515.8,1391.9 517.0,1399.8 518.2,1391.7 519.4,1389.5 520.6,1397.3 521.8,1394.2 523.0,1388.4 524.2,1401.5 525.4,1394.6 526.6,1396.1 527.8,1393.7 529.0,1394.4 530.2,1402.5 531.4,1394.8 532.6,1397.6 533.8,1397.0 535.0,1396.2 536.2,1402.1 537.4,1398.4 538.6,1403.2 539.8,1390.7 541.0,1401.6 542.2,1402.3 543.4,1400.4 544.6,1397.4 545.8,1394.3 547.0,1399.9 548.2,1400.0 549.4,1399.8 550.6,1397.5 551.8,1395.5 553.0,1391.5 554.2,1399.9 555.4,1394.9 556.6,1392.5 557.8,1399.5 559.0,1395.0 560.2,1400.5 561.4,1396.3 562.6,1394.0 563.8,1399.2 565.0,1391.3 566.2,1397.2 567.4,1395.8 568.6,1397.4 569.8,1397.8 571.0,1398.2 572.2,1390.5 573.4,1395.2 574.6,1400.9 575.8,1399.1 577.0,1398.0 578.2,1393.3 579.4,1401.3 580.6,1392.3 581.8,1393.1 583.0,1404.0 584.2,1401.9 585.4,1400.8 586.6,1402.5 587.8,1398.9 589.0,1397.4 590.2,1392.3 591.4,1394.4 592.6,1400.8 593.8,1397.7 595.0,1394.9 596.2,1394.6 597.4,1398.5 598.6,1399.7 599.8,1403.3 601.0,1400.5 602.2,1396.1 603.4,1397.8 604.6,1400.7 605.8,1400.8 607.0,1396.9 608.2,1399.8 609.4,1400.2 610.6,1393.7 611.8,1397.9 613.0,1395.7 614.2,1390.1 615.4,1394.7 616.6,1396.3 617.8,1401.8 619.0,1397.2 620.2,1395.7 621.4,1397.7 622.6,1394.4 623.8,1396.5 625.0,1403.0 626.2,1398.8 627.4,1397.2 628.6,1391.4 629.8,1393.9 631.0,1402.4 632.2,1395.1 633.4,1392.6 634.6,1399.6 635.8,1393.2 637.0,1392.6 638.2,1393.6 639.4,1396.4 640.6,1399.3 641.8,1391.8 643.0,1383.0 644.2,1390.4 645.4,1392.7 646.6,1399.5 647.8,1392.6 649.0,1386.2 650.2,1391.1 651.4,1398.4 652.6,1394.0 653.8,1396.4 655.0,1400.7 656.2,1397.8 657.4,1396.4 658.6,1389.3 659.8,1395.2 661.0,1389.9 662.2,1395.2 663.4,1397.8 664.6,1386.6 665.8,1397.9 667.0,1393.8 668.2,1398.3 669.4,1392.2 670.6,1393.3 671.8,1387.6 673.0,1390.7 674.2,1392.6 675.4,1390.6 676.6,1392.0 677.8,1394.8 679.0,1394.4 680.2,1396.0 681.4,1396.7 682.6,1389.4 683.8,1386.2 685.0,1396.8 686.2,1393.1 687.4,1392.5 688.6,1397.0 689.8,1391.0 691.0,1394.0 692.2,1389.8 693.4,1394.8 694.6,1391.1 695.8,1393.0 697.0,1390.1 698.2,1394.1 699.4,1394.2 700.6,1395.7 701.8,1391.7 703.0,1393.6 704.2,1396.7 705.4,1396.9 706.6,1396.0 707.8,1390.6 709.0,1390.3 710.2,1386.1 711.4,1394.7 712.6,1394.5 713.8,1390.8 715.0,1391.9 716.2,1396.1 717.4,1395.7 718.6,1399.6 719.8,1392.2 721.0,1394.4 722.2,1401.2 723.4,1396.6 724.6,1394.8 725.8,1405.7 727.0,1395.3 728.2,1392.3 729.4,1391.9 730.6,1396.9 731.8,1398.6 733.0,1397.0 734.2,1392.8 735.4,1396.0 736.6,1393.8 737.8,1388.8 739.0,1394.1 740.2,1394.0 741.4,1394.4 742.6,1393.5 743.8,1398.4 745.0,1397.1 746.2,1391.0 747.4,1395.3 748.6,1394.0 749.8,1390.8 751.0,1390.7 752.2,1395.7 753.4,1391.0 754.6,1389.3 755.8,1394.9 757.0,1396.1 758.2,1387.8 759.4,1387.2 760.6,1390.0 761.8,1393.5 763.0,1393.4 764.2,1394.4 765.4,1395.5 766.6,1400.9 767.8,1399.1 769.0,1390.9 770.2,1395.9 771.4,1395.9 772.6,1390.1 773.8,1394.3 775.0,1393.6 776.2,1396.7 777.4,1391.6 778.6,1387.2 779.8,1386.2 781.0,1388.6 782.2,1390.0 783.4,1390.4 784.6,1390.5 785.8,1389.0 787.0,1384.1 788.2,1390.0 789.4,1391.1 790.6,1391.4 791.8,1395.8 793.0,1392.9 794.2,1391.0 795.4,1396.7 796.6,1397.9 797.8,1395.3 799.0,1398.6 800.2,1396.7 801.4,1398.1 802.6,1399.6 803.8,1388.8 805.0,1393.8 806.2,1395.5 807.4,1386.4 808.6,1389.6 809.8,1391.9 811.0,1392.4 812.2,1386.6 813.4,1377.5 814.6,1395.0 815.8,1388.6 817.0,1389.9 818.2,1387.3 819.4,1394.5 820.6,1397.5 821.8,1391.0 823.0,1394.3 824.2,1394.3 825.4,1394.3 826.6,1393.4 827.8,1396.9 829.0,1393.9 830.2,1393.9 831.4,1392.7 832.6,1387.4 833.8,1392.6 835.0,1394.5 836.2,1390.8 837.4,1395.8 838.6,1390.1 839.8,1390.7 841.0,1386.1 842.2,1398.7 843.4,1389.3 844.6,1387.4 845.8,1391.6 847.0,1386.7 848.2,1389.0 849.4,1382.6 850.6,1394.6 851.8,1386.0 853.0,1388.4 854.2,1392.4 855.4,1388.5 856.6,1397.2 857.8,1396.4 859.0,1393.5 860.2,1386.9" fill="none" stroke="#0000ff" stroke-width="5.4" stroke-linejoin="round" stroke-linecap="round"/>
<polyline points="151.0,1395.8 152.2,1387.7 153.4,1385.9 154.6,1386.6 155.8,1386.2 157.0,1381.7 158.2,1375.5 159.4,1376.9 160.6,1381.6 161.8,1380.3 163.0,1380.3 164.2,1382.5 165.4,1385.7 166.6,1377.2 167.8,1377.3 169.0,1373.5 170.2,1376.0 171.4,1384.6 172.6,1383.8 173.8,1385.0 175.0,1386.1 176.2,1379.8 177.4,1372.5 178.6,1375.9 179.8,1378.5 181.0,1374.3 182.2,1373.3 183.4,1380.5 184.6,1370.8 185.8,1371.2 187.0,1373.2 188.2,1378.5 189.4,1378.3 190.6,1371.2 191.8,1374.3 193.0,1371.4 194.2,1370.3 195.4,1378.1 196.6,1364.4 197.8,1368.5 199.0,1369.3 200.2,1367.4 201.4,1371.9 202.6,1365.3 203.8,1361.2 205.0,1364.3 206.2,1358.6 207.4,1366.5 208.6,1366.2 209.8,1356.4 211.0,1367.5 212.2,1362.1 213.4,1362.9 214.6,1365.5 215.8,1369.8 217.0,1363.8 218.2,1360.2 219.4,1361.9 220.6,1358.1 221.8,1360.0 223.0,1353.7 224.2,1362.2 225.4,1360.2 226.6,1357.9 227.8,1357.0 229.0,1360.1 230.2,1354.3 231.4,1350.3 232.6,1354.1 233.8,1354.3 235.0,1359.2 236.2,1346.7 237.4,1349.1 238.6,1347.1 239.8,1347.8 241.0,1346.0 242.2,1346.5 243.4,1340.6 244.6,1336.2 245.8,1351.9 247.0,1334.5 248.2,1341.2 249.4,1339.9 250.6,1329.8 251.8,1329.9 253.0,1331.9 254.2,1333.2 255.4,1325.5 256.6,1330.7 257.8,1325.9 259.0,1324.9 260.2,1318.9 261.4,1321.1 262.6,1319.6 263.8,1305.2 265.0,1312.2 266.2,1314.7 267.4,1304.5 268.6,1315.0 269.8,1303.7 271.0,1300.1 272.2,1294.1 273.4,1282.7 274.6,1287.8 275.8,1280.8 277.0,1277.5 278.2,1285.0 279.4,1273.0 280.6,1270.3 281.8,1266.8 283.0,1275.5 284.2,1270.0 285.4,1260.9 286.6,1260.8 287.8,1258.9 289.0,1258.5 290.2,1252.2 291.4,1245.0 292.6,1252.7 293.8,1242.8 295.0,1238.0 296.2,1237.6 297.4,1233.5 298.6,1234.2 299.8,1229.0 301.0,1222.5 302.2,1219.6 303.4,1217.4 304.6,1218.5 305.8,1207.9 307.0,1213.6 308.2,1206.8 309.4,1199.3 310.6,1203.8 311.8,1197.7 313.0,1194.8 314.2,1181.6 315.4,1184.4 316.6,1182.6 317.8,1173.6 319.0,1170.2 320.2,1162.5 321.4,1166.1 322.6,1165.1 323.8,1156.3 325.0,1158.3 326.2,1158.5 327.4,1152.4 328.6,1149.8 329.8,1150.5 331.0,1147.0 332.2,1155.9 333.4,1146.2 334.6,1145.7 335.8,1144.9 337.0,1142.4 338.2,1141.6 339.4,1137.2 340.6,1137.3 341.8,1137.7 343.0,1133.3 344.2,1131.6 345.4,1134.8 346.6,1136.0 347.8,1129.0 349.0,1125.9 350.2,1125.0 351.4,1121.3 352.6,1112.0 353.8,1118.3 355.0,1121.6 356.2,1121.3 357.4,1118.6 358.6,1112.9 359.8,1104.4 361.0,1104.0 362.2,1106.3 363.4,1118.0 364.6,1101.8 365.8,1108.6 367.0,1107.9 368.2,1100.9 369.4,1100.6 370.6,1101.6 371.8,1094.9 373.0,1101.9 374.2,1102.3 375.4,1095.8 376.6,1098.3 377.8,1094.6 379.0,1103.8 380.2,1098.0 381.4,1091.0 382.6,1095.0 383.8,1094.0 385.0,1101.0 386.2,1090.7 387.4,1096.5 388.6,1093.2 389.8,1091.2 391.0,1086.0 392.2,1087.4 393.4,1094.2 394.6,1080.3 395.8,1084.6 397.0,1077.7 398.2,1084.5 399.4,1083.2 400.6,1084.6 401.8,1080.7 403.0,1084.4 404.2,1088.4 405.4,1082.1 406.6,1082.2 407.8,1078.3 409.0,1086.8 410.2,1086.7 411.4,1086.0 412.6,1079.4 413.8,1092.1 415.0,1082.3 416.2,1086.2 417.4,1083.0 418.6,1084.4 419.8,1086.3 421.0,1080.9 422.2,1081.4 423.4,1081.9 424.6,1089.0 425.8,1081.9 427.0,1077.6 428.2,1082.5 429.4,1079.8 430.6,1082.8 431.8,1083.9 433.0,1084.6 434.2,1078.8 435.4,1081.5 436.6,1077.5 437.8,1078.4 439.0,1080.3 440.2,1080.1 441.4,1078.5 442.6,1080.0 443.8,1080.1 445.0,1078.6 446.2,1074.3 447.4,1079.9 448.6,1074.4 449.8,1080.6 451.0,1074.3 452.2,1077.3 453.4,1072.2 454.6,1080.4 455.8,1078.4 457.0,1074.3 458.2,1066.4 459.4,1075.2 460.6,1060.6 461.8,1078.6 463.0,1080.1 464.2,1085.3 465.4,1080.9 466.6,1086.1 467.8,1083.6 469.0,1091.7 470.2,1095.6 471.4,1086.7 472.6,1077.5 473.8,1086.7 475.0,1086.7 476.2,1092.7 477.4,1094.4 478.6,1085.9 479.8,1083.9 481.0,1087.3 482.2,1088.1 483.4,1075.9 484.6,1085.0 485.8,1083.2 487.0,1079.6 488.2,1089.1 489.4,1088.6 490.6,1094.1 491.8,1092.8 493.0,1093.7 494.2,1094.2 495.4,1089.5 496.6,1096.5 497.8,1097.6 499.0,1094.8 500.2,1106.9 501.4,1099.3 502.6,1093.5 503.8,1103.2 505.0,1107.7 506.2,1103.8 507.4,1109.0 508.6,1096.4 509.8,1105.5 511.0,1103.1 512.2,1107.5 513.4,1103.4 514.6,1106.5 515.8,1101.0 517.0,1101.5 518.2,1108.7 519.4,1110.0 520.6,1106.7 521.8,1109.3 523.0,1111.8 524.2,1105.0 525.4,1102.4 526.6,1114.4 527.8,1111.8 529.0,1111.1 530.2,1119.9 531.4,1116.8 532.6,1124.2 533.8,1117.7 535.0,1112.3 536.2,1118.1 537.4,1125.9 538.6,1119.5 539.8,1126.3 541.0,1126.3 542.2,1123.7 543.4,1121.9 544.6,1135.8 545.8,1129.9 547.0,1128.6 548.2,1130.5 549.4,1141.0 550.6,1139.2 551.8,1140.2 553.0,1137.1 554.2,1132.9 555.4,1135.0 556.6,1125.1 557.8,1129.4 559.0,1127.1 560.2,1128.8 561.4,1137.1 562.6,1135.7 563.8,1136.9 565.0,1136.5 566.2,1141.2 567.4,1139.7 568.6,1142.5 569.8,1140.2 571.0,1140.2 572.2,1146.4 573.4,1137.9 574.6,1138.4 575.8,1140.1 577.0,1144.2 578.2,1147.0 579.4,1141.8 580.6,1150.5 581.8,1147.3 583.0,1141.1 584.2,1149.5 585.4,1147.7 586.6,1147.3 587.8,1142.3 589.0,1148.0 590.2,1139.9 591.4,1148.5 592.6,1142.3 593.8,1148.0 595.0,1144.8 596.2,1144.5 597.4,1160.9 598.6,1148.2 599.8,1145.4 601.0,1152.8 602.2,1155.4 603.4,1147.7 604.6,1157.0 605.8,1147.7 607.0,1153.7 608.2,1151.1 609.4,1149.4 610.6,1151.5 611.8,1147.1 613.0,1145.8 614.2,1151.4 615.4,1148.1 616.6,1149.2 617.8,1150.1 619.0,1149.8 620.2,1148.4 621.4,1155.2 622.6,1154.3 623.8,1156.8 625.0,1162.1 626.2,1160.6 627.4,1148.5 628.6,1160.3 629.8,1152.9 631.0,1156.1 632.2,1158.9 633.4,1161.3 634.6,1158.5 635.8,1157.6 637.0,1166.9 638.2,1165.5 639.4,1160.3 640.6,1154.9 641.8,1157.8 643.0,1158.5 644.2,1155.8 645.4,1149.9 646.6,1164.3 647.8,1161.5 649.0,1144.9 650.2,1151.9 651.4,1149.7 652.6,1155.5 653.8,1158.5 655.0,1157.8 656.2,1156.5 657.4,1159.5 658.6,1160.0 659.8,1161.7 661.0,1153.7 662.2,1164.1 663.4,1160.8 664.6,1166.0 665.8,1161.4 667.0,1168.6 668.2,1161.0 669.4,1166.4 670.6,1154.9 671.8,1163.3 673.0,1160.4 674.2,1160.1 675.4,1160.8 676.6,1158.2 677.8,1159.4 679.0,1165.0 680.2,1163.6 681.4,1156.5 682.6,1156.1 683.8,1164.5 685.0,1165.9 686.2,1161.3 687.4,1156.7 688.6,1162.5 689.8,1166.1 691.0,1159.2 692.2,1162.6 693.4,1157.3 694.6,1167.0 695.8,1150.9 697.0,1155.6 698.2,1168.4 699.4,1159.5 700.6,1161.1 701.8,1161.0 703.0,1161.1 704.2,1153.3 705.4,1156.8 706.6,1161.0 707.8,1156.0 709.0,1164.8 710.2,1160.2 711.4,1163.4 712.6,1169.8 713.8,1164.8 715.0,1160.2 716.2,1162.4 717.4,1166.2 718.6,1164.7 719.8,1163.1 721.0,1163.6 722.2,1173.4 723.4,1169.7 724.6,1172.9 725.8,1168.9 727.0,1172.9 728.2,1171.5 729.4,1170.6 730.6,1164.3 731.8,1165.3 733.0,1174.2 734.2,1179.6 735.4,1167.7 736.6,1166.0 737.8,1159.9 739.0,1168.3 740.2,1170.1 741.4,1172.1 742.6,1171.5 743.8,1171.5 745.0,1170.7 746.2,1167.5 747.4,1167.3 748.6,1177.7 749.8,1178.1 751.0,1166.8 752.2,1174.5 753.4,1178.1 754.6,1168.0 755.8,1176.0 757.0,1177.8 758.2,1172.2 759.4,1174.2 760.6,1176.9 761.8,1176.8 763.0,1170.7 764.2,1179.7 765.4,1176.9 766.6,1176.5 767.8,1182.1 769.0,1170.4 770.2,1176.8 771.4,1173.1 772.6,1176.5 773.8,1196.3 775.0,1176.9 776.2,1178.6 777.4,1175.5 778.6,1176.4 779.8,1172.6 781.0,1177.4 782.2,1174.7 783.4,1179.6 784.6,1170.8 785.8,1182.3 787.0,1172.4 788.2,1176.9 789.4,1177.8 790.6,1178.9 791.8,1174.3 793.0,1178.6 794.2,1176.1 795.4,1168.1 796.6,1168.7 797.8,1174.4 799.0,1171.9 800.2,1167.9 801.4,1174.6 802.6,1176.3 803.8,1179.0 805.0,1177.9 806.2,1167.6 807.4,1177.8 808.6,1170.0 809.8,1176.1 811.0,1167.7 812.2,1178.4 813.4,1189.6 814.6,1178.0 815.8,1173.6 817.0,1177.7 818.2,1169.6 819.4,1176.3 820.6,1181.0 821.8,1175.3 823.0,1180.5 824.2,1178.6 825.4,1180.0 826.6,1179.0 827.8,1171.3 829.0,1184.2 830.2,1187.4 831.4,1178.6 832.6,1174.5 833.8,1172.2 835.0,1180.1 836.2,1184.1 837.4,1180.2 838.6,1182.6 839.8,1177.0 841.0,1186.2 842.2,1185.6 843.4,1183.0 844.6,1177.4 845.8,1176.6 847.0,1178.9 848.2,1177.8 849.4,1185.8 850.6,1179.2 851.8,1190.9 853.0,1189.1 854.2,1180.0 855.4,1172.2 856.6,1194.2 857.8,1180.5 859.0,1180.7 860.2,1185.3" fill="none" stroke="#ff0000" stroke-width="5.6" stroke-linejoin="round" stroke-linecap="round"/>
<polyline points="151.0,1394.9 152.2,1384.0 153.4,1386.3 154.6,1386.8 155.8,1389.1 157.0,1390.9 158.2,1389.7 159.4,1389.8 160.6,1385.4 161.8,1388.5 163.0,1390.2 164.2,1386.9 165.4,1392.0 166.6,1388.9 167.8,1386.7 169.0,1387.3 170.2,1386.7 171.4,1391.5 172.6,1389.9 173.8,1389.6 175.0,1391.7 176.2,1387.8 177.4,1391.3 178.6,1390.1 179.8,1388.7 181.0,1392.0 182.2,1390.0 183.4,1383.9 184.6,1390.4 185.8,1386.3 187.0,1384.1 188.2,1386.8 189.4,1394.0 190.6,1393.0 191.8,1392.6 193.0,1388.7 194.2,1390.1 195.4,1381.3 196.6,1386.6 197.8,1384.2 199.0,1385.7 200.2,1387.0 201.4,1391.2 202.6,1381.6 203.8,1383.9 205.0,1384.9 206.2,1385.2 207.4,1387.6 208.6,1382.2 209.8,1388.1 211.0,1382.6 212.2,1380.3 213.4,1381.4 214.6,1380.6 215.8,1381.2 217.0,1378.4 218.2,1383.9 219.4,1383.1 220.6,1381.9 221.8,1378.1 223.0,1378.4 224.2,1380.8 225.4,1379.0 226.6,1382.6 227.8,1379.0 229.0,1384.1 230.2,1382.4 231.4,1385.2 232.6,1380.6 233.8,1381.6 235.0,1379.4 236.2,1378.2 237.4,1377.7 238.6,1385.3 239.8,1381.4 241.0,1377.2 242.2,1376.6 243.4,1376.2 244.6,1375.6 245.8,1382.4 247.0,1372.0 248.2,1377.4 249.4,1374.7 250.6,1375.9 251.8,1373.5 253.0,1381.7 254.2,1372.4 255.4,1373.9 256.6,1374.7 257.8,1372.0 259.0,1379.3 260.2,1371.7 261.4,1372.6 262.6,1373.9 263.8,1375.5 265.0,1373.5 266.2,1369.7 267.4,1369.8 268.6,1370.6 269.8,1373.1 271.0,1370.2 272.2,1368.5 273.4,1364.1 274.6,1367.7 275.8,1368.7 277.0,1365.5 278.2,1368.2 279.4,1367.3 280.6,1364.1 281.8,1365.8 283.0,1365.6 284.2,1362.5 285.4,1364.4 286.6,1359.2 287.8,1370.9 289.0,1363.5 290.2,1364.1 291.4,1359.0 292.6,1361.9 293.8,1357.9 295.0,1361.3 296.2,1361.7 297.4,1362.7 298.6,1358.5 299.8,1360.4 301.0,1364.2 302.2,1361.4 303.4,1356.2 304.6,1356.2 305.8,1355.2 307.0,1359.6 308.2,1354.7 309.4,1356.4 310.6,1350.8 311.8,1354.1 313.0,1351.9 314.2,1349.1 315.4,1345.6 316.6,1348.3 317.8,1346.7 319.0,1344.5 320.2,1346.0 321.4,1348.1 322.6,1348.1 323.8,1344.3 325.0,1341.6 326.2,1339.7 327.4,1347.9 328.6,1339.2 329.8,1341.8 331.0,1342.0 332.2,1341.4 333.4,1341.3 334.6,1339.0 335.8,1338.1 337.0,1337.0 338.2,1343.4 339.4,1341.1 340.6,1336.3 341.8,1330.2 343.0,1332.7 344.2,1334.9 345.4,1331.1 346.6,1328.3 347.8,1329.7 349.0,1327.0 350.2,1328.0 351.4,1327.2 352.6,1325.5 353.8,1324.5 355.0,1320.7 356.2,1321.3 357.4,1324.4 358.6,1325.2 359.8,1316.2 361.0,1321.4 362.2,1323.0 363.4,1321.5 364.6,1321.6 365.8,1318.5 367.0,1321.1 368.2,1320.3 369.4,1317.6 370.6,1317.6 371.8,1316.1 373.0,1318.0 374.2,1320.9 375.4,1314.9 376.6,1320.0 377.8,1315.6 379.0,1320.0 380.2,1319.6 381.4,1309.9 382.6,1315.3 383.8,1314.4 385.0,1315.1 386.2,1313.3 387.4,1314.4 388.6,1302.2 389.8,1302.7 391.0,1307.4 392.2,1306.7 393.4,1303.0 394.6,1302.3 395.8,1301.9 397.0,1298.1 398.2,1301.7 399.4,1299.8 400.6,1295.0 401.8,1298.5 403.0,1298.1 404.2,1302.4 405.4,1295.2 406.6,1285.8 407.8,1291.1 409.0,1285.8 410.2,1292.5 411.4,1286.4 412.6,1286.2 413.8,1288.2 415.0,1281.8 416.2,1280.5 417.4,1279.0 418.6,1283.3 419.8,1279.7 421.0,1281.6 422.2,1279.3 423.4,1280.3 424.6,1282.6 425.8,1276.7 427.0,1277.6 428.2,1278.2 429.4,1279.1 430.6,1275.2 431.8,1277.8 433.0,1277.8 434.2,1280.9 435.4,1270.6 436.6,1274.2 437.8,1271.9 439.0,1270.7 440.2,1268.4 441.4,1270.3 442.6,1269.3 443.8,1270.8 445.0,1266.8 446.2,1270.1 447.4,1268.6 448.6,1268.7 449.8,1267.5 451.0,1265.2 452.2,1261.9 453.4,1267.6 454.6,1260.5 455.8,1262.7 457.0,1265.6 458.2,1261.3 459.4,1257.1 460.6,1260.6 461.8,1260.3 463.0,1265.2 464.2,1258.7 465.4,1264.4 466.6,1258.3 467.8,1267.5 469.0,1262.0 470.2,1260.7 471.4,1262.0 472.6,1263.3 473.8,1264.6 475.0,1266.7 476.2,1265.5 477.4,1269.2 478.6,1266.6 479.8,1268.8 481.0,1271.1 482.2,1265.7 483.4,1263.7 484.6,1266.5 485.8,1268.0 487.0,1263.5 488.2,1263.6 489.4,1259.3 490.6,1266.7 491.8,1262.3 493.0,1267.9 494.2,1264.0 495.4,1261.2 496.6,1265.1 497.8,1263.5 499.0,1262.8 500.2,1262.1 501.4,1257.7 502.6,1259.5 503.8,1266.2 505.0,1260.9 506.2,1253.8 507.4,1256.3 508.6,1256.9 509.8,1261.6 511.0,1261.0 512.2,1256.2 513.4,1257.7 514.6,1248.6 515.8,1256.6 517.0,1250.7 518.2,1258.0 519.4,1254.2 520.6,1255.3 521.8,1258.4 523.0,1256.8 524.2,1253.5 525.4,1256.3 526.6,1253.0 527.8,1254.8 529.0,1257.5 530.2,1252.0 531.4,1252.3 532.6,1256.5 533.8,1257.3 535.0,1253.7 536.2,1250.2 537.4,1252.1 538.6,1246.5 539.8,1248.7 541.0,1254.2 542.2,1253.3 543.4,1247.2 544.6,1252.8 545.8,1252.4 547.0,1245.6 548.2,1246.4 549.4,1241.6 550.6,1247.6 551.8,1246.3 553.0,1243.9 554.2,1245.9 555.4,1239.9 556.6,1240.2 557.8,1243.4 559.0,1239.9 560.2,1244.6 561.4,1239.5 562.6,1237.0 563.8,1237.7 565.0,1238.0 566.2,1239.6 567.4,1240.4 568.6,1239.8 569.8,1236.9 571.0,1240.7 572.2,1242.1 573.4,1238.0 574.6,1236.4 575.8,1239.3 577.0,1236.0 578.2,1236.1 579.4,1240.0 580.6,1236.4 581.8,1234.1 583.0,1235.5 584.2,1236.5 585.4,1237.0 586.6,1233.5 587.8,1236.7 589.0,1236.3 590.2,1241.9 591.4,1237.6 592.6,1234.2 593.8,1233.2 595.0,1234.5 596.2,1232.1 597.4,1235.1 598.6,1232.1 599.8,1234.2 601.0,1229.7 602.2,1232.6 603.4,1235.6 604.6,1236.8 605.8,1235.2 607.0,1233.6 608.2,1233.8 609.4,1235.0 610.6,1227.0 611.8,1234.0 613.0,1235.4 614.2,1232.5 615.4,1233.0 616.6,1233.0 617.8,1234.0 619.0,1228.5 620.2,1232.4 621.4,1225.2 622.6,1237.3 623.8,1235.0 625.0,1228.9 626.2,1230.7 627.4,1226.7 628.6,1228.2 629.8,1227.7 631.0,1231.5 632.2,1230.6 633.4,1231.6 634.6,1232.0 635.8,1236.2 637.0,1230.0 638.2,1235.5 639.4,1236.7 640.6,1232.9 641.8,1233.9 643.0,1231.1 644.2,1232.6 645.4,1231.4 646.6,1229.7 647.8,1230.1 649.0,1229.1 650.2,1231.4 651.4,1231.4 652.6,1229.5 653.8,1230.8 655.0,1230.1 656.2,1233.2 657.4,1233.1 658.6,1233.4 659.8,1232.4 661.0,1232.0 662.2,1238.8 663.4,1231.0 664.6,1236.0 665.8,1231.7 667.0,1239.6 668.2,1235.6 669.4,1234.5 670.6,1236.8 671.8,1240.8 673.0,1242.3 674.2,1239.7 675.4,1240.6 676.6,1241.8 677.8,1238.9 679.0,1234.0 680.2,1238.1 681.4,1239.1 682.6,1236.2 683.8,1235.9 685.0,1238.5 686.2,1233.8 687.4,1234.0 688.6,1234.6 689.8,1231.2 691.0,1235.2 692.2,1232.5 693.4,1234.6 694.6,1231.2 695.8,1232.8 697.0,1227.2 698.2,1232.1 699.4,1233.1 700.6,1231.2 701.8,1234.6 703.0,1233.6 704.2,1231.8 705.4,1234.8 706.6,1235.4 707.8,1236.4 709.0,1234.6 710.2,1236.7 711.4,1234.1 712.6,1239.6 713.8,1238.2 715.0,1235.4 716.2,1229.6 717.4,1232.6 718.6,1232.7 719.8,1235.6 721.0,1232.2 722.2,1238.4 723.4,1235.5 724.6,1238.4 725.8,1235.2 727.0,1232.6 728.2,1237.2 729.4,1239.6 730.6,1235.0 731.8,1237.3 733.0,1236.5 734.2,1239.2 735.4,1240.2 736.6,1240.9 737.8,1236.9 739.0,1238.4 740.2,1236.4 741.4,1237.8 742.6,1238.1 743.8,1237.5 745.0,1240.1 746.2,1234.8 747.4,1237.8 748.6,1239.5 749.8,1237.5 751.0,1228.9 752.2,1238.1 753.4,1239.5 754.6,1241.5 755.8,1237.1 757.0,1237.1 758.2,1235.1 759.4,1228.3 760.6,1239.9 761.8,1239.6 763.0,1233.8 764.2,1236.7 765.4,1236.3 766.6,1239.6 767.8,1242.5 769.0,1241.5 770.2,1240.2 771.4,1233.8 772.6,1238.9 773.8,1234.0 775.0,1236.9 776.2,1240.0 777.4,1233.9 778.6,1236.5 779.8,1239.2 781.0,1237.0 782.2,1238.3 783.4,1235.5 784.6,1240.7 785.8,1238.7 787.0,1235.0 788.2,1240.0 789.4,1235.0 790.6,1239.2 791.8,1239.2 793.0,1239.5 794.2,1239.5 795.4,1242.1 796.6,1236.9 797.8,1237.8 799.0,1232.2 800.2,1239.1 801.4,1236.7 802.6,1239.1 803.8,1238.4 805.0,1238.0 806.2,1236.1 807.4,1235.8 808.6,1240.4 809.8,1238.0 811.0,1238.1 812.2,1237.4 813.4,1238.1 814.6,1238.3 815.8,1238.3 817.0,1242.4 818.2,1241.2 819.4,1244.5 820.6,1237.8 821.8,1233.7 823.0,1242.4 824.2,1244.2 825.4,1245.6 826.6,1242.0 827.8,1241.0 829.0,1238.5 830.2,1243.1 831.4,1236.7 832.6,1240.0 833.8,1240.5 835.0,1236.7 836.2,1239.9 837.4,1242.8 838.6,1239.5 839.8,1242.9 841.0,1238.8 842.2,1243.2 843.4,1243.4 844.6,1241.6 845.8,1244.3 847.0,1242.0 848.2,1236.7 849.4,1235.4 850.6,1243.1 851.8,1233.5 853.0,1240.7 854.2,1239.4 855.4,1239.8 856.6,1244.6 857.8,1238.7 859.0,1239.5 860.2,1238.5" fill="none" stroke="#000000" stroke-width="5.6" stroke-linejoin="round" stroke-linecap="round"/>
<line x1="150.9" y1="1019.0" x2="150.9" y2="1539.7" stroke="#000" stroke-width="6.2" stroke-linecap="butt"/>
<line x1="147.8" y1="1532.8" x2="863.5" y2="1532.8" stroke="#000" stroke-width="6.2" stroke-linecap="butt"/>
<line x1="150.8" y1="1532.8" x2="150.8" y2="1539.7" stroke="#000" stroke-width="5" stroke-linecap="butt"/>
<line x1="269.1" y1="1532.8" x2="269.1" y2="1539.7" stroke="#000" stroke-width="5" stroke-linecap="butt"/>
<line x1="387.4" y1="1532.8" x2="387.4" y2="1539.7" stroke="#000" stroke-width="5" stroke-linecap="butt"/>
<line x1="505.7" y1="1532.8" x2="505.7" y2="1539.7" stroke="#000" stroke-width="5" stroke-linecap="butt"/>
<line x1="624.0" y1="1532.8" x2="624.0" y2="1539.7" stroke="#000" stroke-width="5" stroke-linecap="butt"/>
<line x1="742.3" y1="1532.8" x2="742.3" y2="1539.7" stroke="#000" stroke-width="5" stroke-linecap="butt"/>
<line x1="860.6" y1="1532.8" x2="860.6" y2="1539.7" stroke="#000" stroke-width="5" stroke-linecap="butt"/>
<line x1="1345.0" y1="996.0" x2="1345.0" y2="1535.1" stroke="#000" stroke-width="4.7" stroke-linecap="butt"/>
<line x1="1337.0" y1="1532.8" x2="2020.0" y2="1532.8" stroke="#000" stroke-width="5.8" stroke-linecap="butt"/>
<line x1="1337.0" y1="1532.8" x2="1345.0" y2="1532.8" stroke="#000" stroke-width="4.5" stroke-linecap="butt"/>
<line x1="1337.0" y1="1443.8" x2="1345.0" y2="1443.8" stroke="#000" stroke-width="4.5" stroke-linecap="butt"/>
<line x1="1337.0" y1="1354.7" x2="1345.0" y2="1354.7" stroke="#000" stroke-width="4.5" stroke-linecap="butt"/>
<line x1="1337.0" y1="1265.7" x2="1345.0" y2="1265.7" stroke="#000" stroke-width="4.5" stroke-linecap="butt"/>
<line x1="1337.0" y1="1176.7" x2="1345.0" y2="1176.7" stroke="#000" stroke-width="4.5" stroke-linecap="butt"/>
<line x1="1337.0" y1="1087.6" x2="1345.0" y2="1087.6" stroke="#000" stroke-width="4.5" stroke-linecap="butt"/>
<line x1="1337.0" y1="998.6" x2="1345.0" y2="998.6" stroke="#000" stroke-width="4.5" stroke-linecap="butt"/>
<rect x="1427.5" y="1354.7" width="101.5" height="178.1" fill="#fff" stroke="#000" stroke-width="5.2"/>
<rect x="1631.9" y="1523.9" width="101.8" height="8.9" fill="#fff" stroke="#000" stroke-width="5.2"/>
<rect x="1836.4" y="1070.9" width="102.0" height="461.9" fill="#fff" stroke="#000" stroke-width="5.2"/>
<line x1="1887.4" y1="1056.6" x2="1887.4" y2="1085.5" stroke="#000" stroke-width="5" stroke-linecap="butt"/>
<line x1="1880.4" y1="1056.6" x2="1894.4" y2="1056.6" stroke="#000" stroke-width="5.5" stroke-linecap="butt"/>
<line x1="1880.4" y1="1085.5" x2="1894.4" y2="1085.5" stroke="#000" stroke-width="5.5" stroke-linecap="butt"/>
<line x1="1676.0" y1="1524.0" x2="1689.0" y2="1524.0" stroke="#000" stroke-width="8" stroke-linecap="butt"/>
<line x1="191.2" y1="1931.0" x2="191.2" y2="2512.0" stroke="#b4b4b4" stroke-width="2.4" stroke-linecap="butt"/>
<line x1="190.0" y1="2511.0" x2="956.2" y2="2511.0" stroke="#b4b4b4" stroke-width="2.4" stroke-linecap="butt"/>
<line x1="177.4" y1="2510.7" x2="191.2" y2="2510.7" stroke="#b4b4b4" stroke-width="2.2" stroke-linecap="butt"/>
<line x1="184.7" y1="2487.6" x2="191.2" y2="2487.6" stroke="#b4b4b4" stroke-width="2.0" stroke-linecap="butt"/>
<line x1="184.7" y1="2464.5" x2="191.2" y2="2464.5" stroke="#b4b4b4" stroke-width="2.0" stroke-linecap="butt"/>
<line x1="184.7" y1="2441.4" x2="191.2" y2="2441.4" stroke="#b4b4b4" stroke-width="2.0" stroke-linecap="butt"/>
<line x1="184.7" y1="2418.3" x2="191.2" y2="2418.3" stroke="#b4b4b4" stroke-width="2.0" stroke-linecap="butt"/>
<line x1="177.4" y1="2395.2" x2="191.2" y2="2395.2" stroke="#b4b4b4" stroke-width="2.2" stroke-linecap="butt"/>
<line x1="184.7" y1="2372.1" x2="191.2" y2="2372.1" stroke="#b4b4b4" stroke-width="2.0" stroke-linecap="butt"/>
<line x1="184.7" y1="2349.0" x2="191.2" y2="2349.0" stroke="#b4b4b4" stroke-width="2.0" stroke-linecap="butt"/>
<line x1="184.7" y1="2325.9" x2="191.2" y2="2325.9" stroke="#b4b4b4" stroke-width="2.0" stroke-linecap="butt"/>
<line x1="184.7" y1="2302.8" x2="191.2" y2="2302.8" stroke="#b4b4b4" stroke-width="2.0" stroke-linecap="butt"/>
<line x1="177.4" y1="2279.7" x2="191.2" y2="2279.7" stroke="#b4b4b4" stroke-width="2.2" stroke-linecap="butt"/>
<line x1="184.7" y1="2256.6" x2="191.2" y2="2256.6" stroke="#b4b4b4" stroke-width="2.0" stroke-linecap="butt"/>
<line x1="184.7" y1="2233.5" x2="191.2" y2="2233.5" stroke="#b4b4b4" stroke-width="2.0" stroke-linecap="butt"/>
<line x1="184.7" y1="2210.4" x2="191.2" y2="2210.4" stroke="#b4b4b4" stroke-width="2.0" stroke-linecap="butt"/>
<line x1="184.7" y1="2187.3" x2="191.2" y2="2187.3" stroke="#b4b4b4" stroke-width="2.0" stroke-linecap="butt"/>
<line x1="177.4" y1="2164.2" x2="191.2" y2="2164.2" stroke="#b4b4b4" stroke-width="2.2" stroke-linecap="butt"/>
<line x1="184.7" y1="2141.1" x2="191.2" y2="2141.1" stroke="#b4b4b4" stroke-width="2.0" stroke-linecap="butt"/>
<line x1="184.7" y1="2118.0" x2="191.2" y2="2118.0" stroke="#b4b4b4" stroke-width="2.0" stroke-linecap="butt"/>
<line x1="184.7" y1="2094.9" x2="191.2" y2="2094.9" stroke="#b4b4b4" stroke-width="2.0" stroke-linecap="butt"/>
<line x1="184.7" y1="2071.8" x2="191.2" y2="2071.8" stroke="#b4b4b4" stroke-width="2.0" stroke-linecap="butt"/>
<line x1="177.4" y1="2048.7" x2="191.2" y2="2048.7" stroke="#b4b4b4" stroke-width="2.2" stroke-linecap="butt"/>
<line x1="184.7" y1="2025.6" x2="191.2" y2="2025.6" stroke="#b4b4b4" stroke-width="2.0" stroke-linecap="butt"/>
<line x1="184.7" y1="2002.5" x2="191.2" y2="2002.5" stroke="#b4b4b4" stroke-width="2.0" stroke-linecap="butt"/>
<line x1="184.7" y1="1979.4" x2="191.2" y2="1979.4" stroke="#b4b4b4" stroke-width="2.0" stroke-linecap="butt"/>
<line x1="184.7" y1="1956.3" x2="191.2" y2="1956.3" stroke="#b4b4b4" stroke-width="2.0" stroke-linecap="butt"/>
<line x1="177.4" y1="1933.2" x2="191.2" y2="1933.2" stroke="#b4b4b4" stroke-width="2.2" stroke-linecap="butt"/>
<line x1="296.8" y1="2511.0" x2="296.8" y2="2516.6" stroke="#bdbdbd" stroke-width="2.0" stroke-linecap="butt"/>
<line x1="330.3" y1="2511.0" x2="330.3" y2="2516.6" stroke="#bdbdbd" stroke-width="2.0" stroke-linecap="butt"/>
<line x1="356.5" y1="2511.0" x2="356.5" y2="2516.6" stroke="#bdbdbd" stroke-width="2.0" stroke-linecap="butt"/>
<line x1="377.4" y1="2511.0" x2="377.4" y2="2516.6" stroke="#bdbdbd" stroke-width="2.0" stroke-linecap="butt"/>
<line x1="395.5" y1="2511.0" x2="395.5" y2="2516.6" stroke="#bdbdbd" stroke-width="2.0" stroke-linecap="butt"/>
<line x1="410.0" y1="2511.0" x2="410.0" y2="2516.6" stroke="#bdbdbd" stroke-width="2.0" stroke-linecap="butt"/>
<line x1="423.5" y1="2511.0" x2="423.5" y2="2516.6" stroke="#bdbdbd" stroke-width="2.0" stroke-linecap="butt"/>
<line x1="435.3" y1="2511.0" x2="435.3" y2="2516.6" stroke="#bdbdbd" stroke-width="2.0" stroke-linecap="butt"/>
<line x1="515.1" y1="2511.0" x2="515.1" y2="2516.6" stroke="#bdbdbd" stroke-width="2.0" stroke-linecap="butt"/>
<line x1="555.9" y1="2511.0" x2="555.9" y2="2516.6" stroke="#bdbdbd" stroke-width="2.0" stroke-linecap="butt"/>
<line x1="584.8" y1="2511.0" x2="584.8" y2="2516.6" stroke="#bdbdbd" stroke-width="2.0" stroke-linecap="butt"/>
<line x1="607.5" y1="2511.0" x2="607.5" y2="2516.6" stroke="#bdbdbd" stroke-width="2.0" stroke-linecap="butt"/>
<line x1="626.5" y1="2511.0" x2="626.5" y2="2516.6" stroke="#bdbdbd" stroke-width="2.0" stroke-linecap="butt"/>
<line x1="641.9" y1="2511.0" x2="641.9" y2="2516.6" stroke="#bdbdbd" stroke-width="2.0" stroke-linecap="butt"/>
<line x1="655.5" y1="2511.0" x2="655.5" y2="2516.6" stroke="#bdbdbd" stroke-width="2.0" stroke-linecap="butt"/>
<line x1="667.2" y1="2511.0" x2="667.2" y2="2516.6" stroke="#bdbdbd" stroke-width="2.0" stroke-linecap="butt"/>
<line x1="747.4" y1="2511.0" x2="747.4" y2="2516.6" stroke="#bdbdbd" stroke-width="2.0" stroke-linecap="butt"/>
<line x1="788.2" y1="2511.0" x2="788.2" y2="2516.6" stroke="#bdbdbd" stroke-width="2.0" stroke-linecap="butt"/>
<line x1="817.3" y1="2511.0" x2="817.3" y2="2516.6" stroke="#bdbdbd" stroke-width="2.0" stroke-linecap="butt"/>
<line x1="839.8" y1="2511.0" x2="839.8" y2="2516.6" stroke="#bdbdbd" stroke-width="2.0" stroke-linecap="butt"/>
<line x1="858.4" y1="2511.0" x2="858.4" y2="2516.6" stroke="#bdbdbd" stroke-width="2.0" stroke-linecap="butt"/>
<line x1="873.8" y1="2511.0" x2="873.8" y2="2516.6" stroke="#bdbdbd" stroke-width="2.0" stroke-linecap="butt"/>
<line x1="887.4" y1="2511.0" x2="887.4" y2="2516.6" stroke="#bdbdbd" stroke-width="2.0" stroke-linecap="butt"/>
<line x1="899.2" y1="2511.0" x2="899.2" y2="2516.6" stroke="#bdbdbd" stroke-width="2.0" stroke-linecap="butt"/>
<line x1="198.4" y1="2511.0" x2="198.4" y2="2521.4" stroke="#b4b4b4" stroke-width="2.2" stroke-linecap="butt"/>
<line x1="445.5" y1="2511.0" x2="445.5" y2="2521.4" stroke="#b4b4b4" stroke-width="2.2" stroke-linecap="butt"/>
<line x1="678.0" y1="2511.0" x2="678.0" y2="2521.4" stroke="#b4b4b4" stroke-width="2.2" stroke-linecap="butt"/>
<line x1="910.0" y1="2511.0" x2="910.0" y2="2521.4" stroke="#b4b4b4" stroke-width="2.2" stroke-linecap="butt"/>
<line x1="815.9" y1="2510.5" x2="956.0" y2="2510.5" stroke="#4a4aff" stroke-width="1.8" stroke-linecap="butt"/>
<polyline points="198.0,2509.7 210.8,2502.5 219.8,2480.7 228.0,2472.6 236.0,2448.0 245.0,2437.0 252.4,2390.0 257.9,2355.8 263.3,2328.6 272.3,2292.4 277.8,2256.0 282.3,2220.0 286.8,2164.4 290.4,2128.2 294.0,2110.0 303.0,2110.0 306.7,2083.0 312.2,2028.6 314.9,2008.7 323.0,2007.0 328.5,1997.9 333.9,2019.6 339.3,2046.7 344.8,2046.7 348.4,2058.5 359.2,2055.8 362.9,2070.3 366.5,2101.0 371.9,2137.3 376.4,2152.7 384.6,2150.8 390.0,2173.5 397.3,2193.4 403.6,2220.0 408.0,2252.6 412.7,2273.4 419.0,2272.5 422.6,2265.0 428.0,2278.0 433.5,2299.7 440.0,2303.5 445.4,2312.5 450.9,2336.0 454.5,2341.5 461.7,2339.7 467.0,2356.0 472.6,2365.0 479.8,2372.0 485.0,2390.0 490.7,2403.0 496.0,2395.8 499.7,2389.5 505.0,2395.8 510.6,2406.7 517.9,2415.7 525.0,2430.0 530.5,2433.0 537.8,2426.6 543.0,2419.0 548.6,2418.4 555.9,2426.6 561.0,2430.0 566.7,2423.0 573.0,2416.6 579.4,2423.0 584.8,2424.8 593.9,2421.0 604.8,2414.8 612.0,2423.0 618.0,2424.8 626.5,2419.0 633.7,2426.6 639.0,2441.0 644.6,2453.7 650.0,2458.0 660.9,2461.0 670.0,2471.8 680.8,2479.0 690.0,2488.0 697.0,2494.5 709.8,2497.0 714.5,2498.5 723.5,2504.8 736.0,2508.5 754.0,2509.4 780.0,2510.0" fill="none" stroke="#ff6347" stroke-width="2.4" stroke-linejoin="round" stroke-linecap="round"/>
<polyline points="198.0,2509.7 212.6,2505.0 230.7,2493.4 238.0,2477.0 247.0,2468.0 254.2,2448.0 263.3,2415.5 270.5,2404.7 276.0,2392.0 281.4,2350.4 285.0,2310.5 290.4,2265.0 295.0,2257.0 304.0,2259.8 308.6,2220.0 312.2,2173.5 315.8,2146.3 323.0,2130.0 327.6,2110.0 335.7,2105.6 343.9,2115.5 348.4,2133.6 352.0,2131.0 360.2,2105.6 364.7,2106.5 368.3,2119.0 373.7,2146.3 379.2,2141.0 385.5,2135.5 388.2,2150.0 397.3,2182.5 404.5,2184.3 413.6,2200.6 422.6,2190.7 429.9,2198.8 439.0,2220.0 444.5,2239.5 450.0,2260.4 458.0,2254.0 462.6,2258.0 469.0,2277.0 476.0,2296.0 483.5,2331.0 487.0,2341.0 494.3,2331.5 499.7,2331.5 507.0,2352.5 516.0,2361.0 527.0,2385.0 532.3,2386.7 539.6,2371.4 544.0,2374.0 550.4,2388.6 559.5,2390.4 568.6,2400.0 583.0,2398.5 590.0,2401.0 604.8,2421.0 610.0,2417.5 616.5,2405.8 620.0,2410.0 628.0,2428.4 639.0,2424.8 646.4,2430.0 657.0,2439.0 670.0,2459.0 681.0,2466.4 690.0,2475.5 699.0,2486.0 706.0,2485.2 713.4,2488.5 718.0,2494.9 727.0,2499.4 741.6,2501.0 754.0,2502.0 765.0,2503.0 772.4,2505.8 785.0,2506.7 801.4,2507.6 815.9,2506.3 825.0,2510.0" fill="none" stroke="#008228" stroke-width="2.6" stroke-linejoin="round" stroke-linecap="round"/>
<polyline points="197.0,2509.7 200.0,2503.0 210.8,2503.0 219.8,2491.6 228.9,2480.7 236.0,2450.0 241.6,2445.4 247.0,2445.4 252.4,2424.6 257.9,2374.0 263.3,2337.7 266.9,2327.7 275.0,2320.5 279.6,2297.9 285.0,2220.0 288.6,2173.5 292.3,2137.3 295.0,2121.0 304.0,2134.6 308.6,2092.0 314.9,2035.0 321.2,2034.0 324.9,2023.2 327.6,1987.0 331.7,1980.7 335.7,1997.9 340.2,2025.0 344.8,2032.3 350.2,2054.9 353.8,2059.4 360.2,2058.5 364.7,2073.9 370.0,2119.0 375.5,2159.0 381.0,2171.7 388.2,2180.7 395.5,2180.7 402.7,2198.8 409.0,2220.0 415.4,2249.0 420.8,2274.3 429.9,2283.4 436.2,2299.7 440.7,2297.9 445.4,2285.0 450.0,2285.0 454.5,2301.6 463.5,2338.0 470.8,2366.8 476.0,2376.8 485.0,2378.6 494.3,2394.0 505.0,2392.0 516.0,2385.0 521.5,2387.6 530.5,2403.0 541.4,2421.0 548.6,2426.6 563.0,2427.5 572.0,2423.0 581.0,2423.9 588.5,2417.5 594.8,2419.0 599.3,2433.8 604.8,2442.9 613.8,2435.6 622.9,2432.9 628.0,2436.5 633.7,2442.9 642.8,2446.5 651.8,2457.4 660.9,2460.0 670.0,2473.6 675.4,2477.0 686.0,2476.4 695.0,2484.5 702.5,2496.0 708.0,2498.0 715.0,2493.6 721.7,2500.3 729.0,2503.0 736.0,2500.3 750.7,2504.8 763.4,2504.8 772.4,2508.5 790.5,2509.4 845.0,2510.0" fill="none" stroke="#141414" stroke-width="2.5" stroke-linejoin="round" stroke-linecap="round"/>
<polyline points="190.9,2511.0 216.2,2510.6 247.0,2507.0 257.9,2500.6 266.9,2492.5 277.8,2487.0 283.2,2480.7 288.6,2460.8 294.0,2446.3 304.0,2446.3 310.4,2419.0 314.9,2410.0 323.0,2410.0 328.5,2393.8 337.5,2385.7 343.0,2378.4 350.2,2374.8 359.2,2360.3 372.8,2364.8 379.2,2346.7 384.6,2326.0 393.6,2333.0 400.9,2314.0 408.0,2294.2 415.4,2283.4 422.6,2277.0 433.5,2278.8 438.9,2267.0 444.3,2243.5 449.8,2227.0 458.0,2223.0 463.5,2210.0 467.0,2194.0 470.8,2189.5 474.4,2195.8 479.0,2210.0 484.4,2209.4 490.7,2199.4 498.8,2191.0 502.5,2194.0 507.0,2204.8 512.4,2206.7 519.7,2196.7 524.2,2195.8 532.3,2198.5 539.6,2190.4 546.8,2181.0 553.0,2179.5 557.7,2199.4 564.0,2219.0 568.6,2219.0 577.6,2214.8 583.0,2226.6 588.5,2242.0 595.7,2246.5 603.0,2246.5 610.0,2241.0 614.7,2255.0 621.0,2287.0 626.5,2305.0 634.6,2308.0 641.0,2318.0 650.0,2343.0 659.0,2372.0 668.0,2390.0 673.6,2404.0 682.6,2406.7 688.0,2417.5 693.5,2432.0 700.7,2441.0 708.0,2456.6 716.3,2459.8 722.0,2467.5 729.5,2480.0 736.5,2487.8 745.3,2486.7 750.7,2491.3 756.0,2497.6 763.4,2491.3 768.8,2490.7 776.0,2495.8 785.0,2500.3 794.0,2504.0 805.0,2506.7 815.9,2510.3" fill="none" stroke="#1a1aff" stroke-width="2.5" stroke-linejoin="round" stroke-linecap="round"/>
<line x1="1260.0" y1="2007.0" x2="1260.0" y2="2515.0" stroke="#000" stroke-width="5.5" stroke-linecap="butt"/>
<line x1="1253.0" y1="2512.3" x2="2007.0" y2="2512.3" stroke="#000" stroke-width="5.6" stroke-linecap="butt"/>
<line x1="1253.0" y1="2512.3" x2="1260.0" y2="2512.3" stroke="#000" stroke-width="4.5" stroke-linecap="butt"/>
<line x1="1253.0" y1="2386.6" x2="1260.0" y2="2386.6" stroke="#000" stroke-width="4.5" stroke-linecap="butt"/>
<line x1="1253.0" y1="2260.9" x2="1260.0" y2="2260.9" stroke="#000" stroke-width="4.5" stroke-linecap="butt"/>
<line x1="1253.0" y1="2135.2" x2="1260.0" y2="2135.2" stroke="#000" stroke-width="4.5" stroke-linecap="butt"/>
<line x1="1253.0" y1="2009.5" x2="1260.0" y2="2009.5" stroke="#000" stroke-width="4.5" stroke-linecap="butt"/>
<rect x="1364.1" y="2444.0" width="90.2" height="68.3" fill="#fff" stroke="#000" stroke-width="5.2"/>
<line x1="1409.0" y1="2403.0" x2="1409.0" y2="2486.0" stroke="#000" stroke-width="5" stroke-linecap="butt"/>
<line x1="1402.0" y1="2403.0" x2="1416.0" y2="2403.0" stroke="#000" stroke-width="5.5" stroke-linecap="butt"/>
<line x1="1402.0" y1="2486.0" x2="1416.0" y2="2486.0" stroke="#000" stroke-width="5.5" stroke-linecap="butt"/>
<rect x="1513.6" y="2312.8" width="90.0" height="199.5" fill="#fff" stroke="#000" stroke-width="5.2"/>
<line x1="1558.6" y1="2283.4" x2="1558.6" y2="2343.3" stroke="#000" stroke-width="5" stroke-linecap="butt"/>
<line x1="1551.6" y1="2283.4" x2="1565.6" y2="2283.4" stroke="#000" stroke-width="5.5" stroke-linecap="butt"/>
<line x1="1551.6" y1="2343.3" x2="1565.6" y2="2343.3" stroke="#000" stroke-width="5.5" stroke-linecap="butt"/>
<rect x="1663.8" y="2198.0" width="89.1" height="314.3" fill="#fff" stroke="#000" stroke-width="5.2"/>
<line x1="1707.8" y1="2091.6" x2="1707.8" y2="2306.6" stroke="#000" stroke-width="5" stroke-linecap="butt"/>
<line x1="1700.8" y1="2091.6" x2="1714.8" y2="2091.6" stroke="#000" stroke-width="5.5" stroke-linecap="butt"/>
<line x1="1700.8" y1="2306.6" x2="1714.8" y2="2306.6" stroke="#000" stroke-width="5.5" stroke-linecap="butt"/>
<rect x="1812.5" y="2423.5" width="89.9" height="88.8" fill="#fff" stroke="#000" stroke-width="5.2"/>
<line x1="1857.7" y1="2368.6" x2="1857.7" y2="2477.4" stroke="#000" stroke-width="5" stroke-linecap="butt"/>
<line x1="1850.7" y1="2368.6" x2="1864.7" y2="2368.6" stroke="#000" stroke-width="5.5" stroke-linecap="butt"/>
<line x1="1850.7" y1="2477.4" x2="1864.7" y2="2477.4" stroke="#000" stroke-width="5.5" stroke-linecap="butt"/>
<polyline points="1407.3,2375.4 1407.3,2047.4 1858.6,2047.4 1858.6,2334.7" fill="none" stroke="#000" stroke-width="5.4" stroke-linejoin="miter"/>
<text transform="translate(87.79,91.40) scale(0.9685,1)" font-size="83.48" font-weight="bold" fill="#000">A</text>
<text transform="translate(143.09,697.40) scale(0.9497,1)" font-size="43.01" font-weight="bold" fill="#000">0</text>
<text transform="translate(243.75,697.40) scale(0.9497,1)" font-size="43.01" font-weight="bold" fill="#000">100</text>
<text transform="translate(366.17,697.40) scale(0.9497,1)" font-size="43.01" font-weight="bold" fill="#000">200</text>
<text transform="translate(487.77,697.40) scale(0.9497,1)" font-size="43.01" font-weight="bold" fill="#000">300</text>
<text transform="translate(609.88,697.40) scale(0.9497,1)" font-size="43.01" font-weight="bold" fill="#000">400</text>
<text transform="translate(730.97,697.40) scale(0.9497,1)" font-size="43.01" font-weight="bold" fill="#000">500</text>
<text transform="translate(852.67,697.40) scale(0.9497,1)" font-size="43.01" font-weight="bold" fill="#000">600</text>
<text transform="translate(416.53,773.20) scale(0.9971,1)" font-size="58.15" font-weight="bold" fill="#000">Time (s)</text>
<text transform="translate(110.80,521.19) rotate(-90) scale(0.9846,1)" font-size="59.70" font-weight="bold" fill="#000">ATP release</text>
<text transform="translate(857.88,295.60) scale(0.9603,1)" font-size="49.69" font-weight="bold" fill="#ff0000">LPS + collagen</text>
<text transform="translate(859.73,393.60) scale(1.0332,1)" font-size="46.23" font-weight="bold" fill="#000">collagen</text>
<text transform="translate(857.88,446.20) scale(0.9923,1)" font-size="48.48" font-weight="bold" fill="#0000ff">LPS</text>
<text transform="translate(1322.54,658.90) scale(0.9110,1)" font-size="44.06" font-weight="bold" fill="#000">0</text>
<text transform="translate(1302.46,571.78) scale(0.9110,1)" font-size="44.06" font-weight="bold" fill="#000">50</text>
<text transform="translate(1282.39,484.67) scale(0.9110,1)" font-size="44.06" font-weight="bold" fill="#000">100</text>
<text transform="translate(1282.39,397.55) scale(0.9110,1)" font-size="44.06" font-weight="bold" fill="#000">150</text>
<text transform="translate(1282.39,310.43) scale(0.9110,1)" font-size="44.06" font-weight="bold" fill="#000">200</text>
<text transform="translate(1282.39,223.32) scale(0.9110,1)" font-size="44.06" font-weight="bold" fill="#000">250</text>
<text transform="translate(1282.39,136.20) scale(0.9110,1)" font-size="44.06" font-weight="bold" fill="#000">300</text>
<text transform="translate(1198.80,537.37) rotate(-90) scale(1.1347,1)" font-size="50.43" font-weight="bold" fill="#000">ATP release</text>
<text transform="translate(1256.00,649.79) rotate(-90) scale(1.1230,1)" font-size="51.30" font-weight="bold" fill="#000">(% of collagen group)</text>
<text transform="translate(1686.40,533.20) scale(0.8062,1)" font-size="49.62" font-weight="bold" fill="#000">*</text>
<text transform="translate(1859.10,180.80) scale(0.8048,1)" font-size="49.62" font-weight="bold" fill="#000" style="letter-spacing:2.98px">***</text>
<text transform="translate(1424.48,690.00) scale(0.9458,1)" font-size="42.75" font-weight="bold" fill="#000">collagen</text>
<text transform="translate(1656.99,693.60) scale(0.8941,1)" font-size="45.30" font-weight="bold" fill="#000">LPS</text>
<text transform="translate(1857.90,692.60) scale(0.8854,1)" font-size="45.30" font-weight="bold" fill="#000">LPS</text>
<text transform="translate(1880.40,746.80) scale(0.9197,1)" font-size="52.14" font-weight="normal" fill="#000">+</text>
<text transform="translate(1823.30,792.00) scale(0.9376,1)" font-size="42.75" font-weight="bold" fill="#000">collagen</text>
<text transform="translate(86.78,917.60) scale(0.9804,1)" font-size="82.90" font-weight="bold" fill="#000">B</text>
<text transform="translate(140.76,1597.10) scale(0.9703,1)" font-size="41.80" font-weight="bold" fill="#000">0</text>
<text transform="translate(238.27,1597.10) scale(0.9703,1)" font-size="41.80" font-weight="bold" fill="#000">100</text>
<text transform="translate(357.38,1597.10) scale(0.9703,1)" font-size="41.80" font-weight="bold" fill="#000">200</text>
<text transform="translate(475.68,1597.10) scale(0.9703,1)" font-size="41.80" font-weight="bold" fill="#000">300</text>
<text transform="translate(594.48,1597.10) scale(0.9703,1)" font-size="41.80" font-weight="bold" fill="#000">400</text>
<text transform="translate(712.28,1597.10) scale(0.9703,1)" font-size="41.80" font-weight="bold" fill="#000">500</text>
<text transform="translate(830.68,1597.10) scale(0.9703,1)" font-size="41.80" font-weight="bold" fill="#000">600</text>
<text transform="translate(399.48,1679.80) scale(0.9772,1)" font-size="62.46" font-weight="bold" fill="#000">Time (s)</text>
<text transform="translate(57.60,1429.19) rotate(-90) scale(1.0165,1)" font-size="51.91" font-weight="bold" fill="#000">Fluorescence</text>
<text transform="translate(114.40,1440.77) rotate(-90) scale(0.9931,1)" font-size="53.03" font-weight="bold" fill="#000">(ratio 340/380)</text>
<text transform="translate(818.98,1154.00) scale(0.9901,1)" font-size="48.31" font-weight="bold" fill="#ff0000">LPS + collagen</text>
<text transform="translate(815.54,1223.60) scale(1.0111,1)" font-size="46.96" font-weight="bold" fill="#000">collagen</text>
<text transform="translate(832.27,1379.60) scale(1.0024,1)" font-size="48.33" font-weight="bold" fill="#0000ff">LPS</text>
<text transform="translate(1295.40,1548.60) scale(0.9023,1)" font-size="47.22" font-weight="bold" fill="#000">0</text>
<text transform="translate(1274.10,1459.30) scale(0.9023,1)" font-size="47.22" font-weight="bold" fill="#000">50</text>
<text transform="translate(1252.80,1370.00) scale(0.9023,1)" font-size="47.22" font-weight="bold" fill="#000">100</text>
<text transform="translate(1252.80,1280.70) scale(0.9023,1)" font-size="47.22" font-weight="bold" fill="#000">150</text>
<text transform="translate(1252.80,1191.40) scale(0.9023,1)" font-size="47.22" font-weight="bold" fill="#000">200</text>
<text transform="translate(1252.80,1102.10) scale(0.9023,1)" font-size="47.22" font-weight="bold" fill="#000">250</text>
<text transform="translate(1252.80,1012.80) scale(0.9023,1)" font-size="47.22" font-weight="bold" fill="#000">300</text>
<text transform="translate(1167.40,1473.55) rotate(-90) scale(1.1004,1)" font-size="53.62" font-weight="bold" fill="#000">Calcium release</text>
<text transform="translate(1226.40,1538.66) rotate(-90) scale(1.1311,1)" font-size="52.17" font-weight="bold" fill="#000">(% of collagen group)</text>
<text transform="translate(1652.82,1519.50) scale(0.8417,1)" font-size="49.62" font-weight="bold" fill="#000" style="letter-spacing:2.98px">***</text>
<text transform="translate(1855.40,1055.70) scale(0.8523,1)" font-size="49.62" font-weight="bold" fill="#000" style="letter-spacing:2.98px">***</text>
<text transform="translate(1401.03,1584.50) scale(0.9797,1)" font-size="42.75" font-weight="bold" fill="#000">collagen</text>
<text transform="translate(1649.07,1589.60) scale(0.9240,1)" font-size="45.61" font-weight="bold" fill="#000">LPS</text>
<text transform="translate(1846.37,1590.80) scale(0.9240,1)" font-size="45.61" font-weight="bold" fill="#000">LPS</text>
<text transform="translate(1870.92,1644.40) scale(0.9054,1)" font-size="50.36" font-weight="normal" fill="#000">+</text>
<text transform="translate(1809.53,1692.00) scale(0.9831,1)" font-size="42.75" font-weight="bold" fill="#000">collagen</text>
<text transform="translate(85.23,1858.20) scale(1.0263,1)" font-size="85.15" font-weight="bold" fill="#000">C</text>
<text transform="translate(154.74,2520.70) scale(1.4275,1)" font-size="29.02" font-weight="normal" fill="#222" stroke="#222" stroke-width="0.55">0</text>
<text transform="translate(133.91,2405.20) scale(1.4318,1)" font-size="29.02" font-weight="normal" fill="#222" stroke="#222" stroke-width="0.55">50</text>
<text transform="translate(115.83,2289.70) scale(1.3682,1)" font-size="29.02" font-weight="normal" fill="#222" stroke="#222" stroke-width="0.55">100</text>
<text transform="translate(115.83,2174.20) scale(1.3682,1)" font-size="29.02" font-weight="normal" fill="#222" stroke="#222" stroke-width="0.55">150</text>
<text transform="translate(114.78,2058.70) scale(1.3928,1)" font-size="29.02" font-weight="normal" fill="#222" stroke="#222" stroke-width="0.55">200</text>
<text transform="translate(114.78,1943.20) scale(1.3928,1)" font-size="29.02" font-weight="normal" fill="#222" stroke="#222" stroke-width="0.55">250</text>
<text transform="translate(187.58,2545.60) scale(1.5083,1)" font-size="28.57" font-weight="normal" fill="#222" stroke="#222" stroke-width="0.55">0</text>
<text transform="translate(427.36,2546.00) scale(1.3716,1)" font-size="27.07" font-weight="normal" fill="#222" stroke="#222" stroke-width="0.55">10</text>
<text transform="translate(463.98,2537.60) scale(1.5469,1)" font-size="21.82" font-weight="normal" fill="#222" stroke="#222" stroke-width="0.55">2</text>
<text transform="translate(660.26,2546.00) scale(1.3716,1)" font-size="27.07" font-weight="normal" fill="#222" stroke="#222" stroke-width="0.55">10</text>
<text transform="translate(696.75,2537.60) scale(1.5091,1)" font-size="21.82" font-weight="normal" fill="#222" stroke="#222" stroke-width="0.55">3</text>
<text transform="translate(891.26,2546.00) scale(1.3716,1)" font-size="27.07" font-weight="normal" fill="#222" stroke="#222" stroke-width="0.55">10</text>
<text transform="translate(928.82,2537.60) scale(1.3206,1)" font-size="21.98" font-weight="normal" fill="#222" stroke="#222" stroke-width="0.55">4</text>
<text transform="translate(289.78,2612.30) scale(0.9778,1)" font-size="62.75" font-weight="bold" fill="#000">Fluorescence intensity</text>
<text transform="translate(85.00,2451.63) rotate(-90) scale(0.9435,1)" font-size="65.23" font-weight="bold" fill="#000">Number of cells</text>
<text transform="translate(276.61,2005.00) scale(0.9303,1)" font-size="74.89" font-weight="bold" fill="#ff7f27">a</text>
<text transform="translate(353.56,2007.80) scale(1.0179,1)" font-size="72.17" font-weight="bold" fill="#000">d</text>
<text transform="translate(402.49,2150.90) scale(1.0260,1)" font-size="72.32" font-weight="bold" fill="#00a650">b</text>
<text transform="translate(534.12,2142.70) scale(1.0655,1)" font-size="71.91" font-weight="bold" fill="#0000ff">c</text>
<text transform="translate(1207.88,2527.50) scale(0.9947,1)" font-size="45.71" font-weight="bold" fill="#000">0</text>
<text transform="translate(1162.41,2401.80) scale(0.9947,1)" font-size="45.71" font-weight="bold" fill="#000">200</text>
<text transform="translate(1162.41,2276.10) scale(0.9947,1)" font-size="45.71" font-weight="bold" fill="#000">400</text>
<text transform="translate(1162.41,2150.40) scale(0.9947,1)" font-size="45.71" font-weight="bold" fill="#000">600</text>
<text transform="translate(1162.41,2024.70) scale(0.9947,1)" font-size="45.71" font-weight="bold" fill="#000">800</text>
<text transform="translate(1080.40,2532.49) rotate(-90) scale(0.9706,1)" font-size="60.92" font-weight="bold" fill="#000">P-selectin expression</text>
<text transform="translate(1145.60,2341.19) rotate(-90) scale(1.1060,1)" font-size="54.00" font-weight="bold" fill="#000">(MFI)</text>
<text transform="translate(1567.68,2027.60) scale(0.9906,1)" font-size="41.80" font-weight="bold" fill="#000">p &gt; 0.05</text>
<text transform="translate(1688.16,2084.30) scale(0.9690,1)" font-size="43.54" font-weight="normal" fill="#000">##</text>
<text transform="translate(1546.90,2284.80) scale(1.0105,1)" font-size="50.69" font-weight="bold" fill="#000">*</text>
<text transform="translate(1399.43,2544.20) scale(0.9539,1)" font-size="44.47" font-weight="bold" fill="#000">a</text>
<text transform="translate(1548.36,2550.20) scale(1.0114,1)" font-size="42.32" font-weight="bold" fill="#000">b</text>
<text transform="translate(1698.51,2546.60) scale(1.1023,1)" font-size="43.83" font-weight="bold" fill="#000">c</text>
<text transform="translate(1845.78,2550.00) scale(1.0295,1)" font-size="41.74" font-weight="bold" fill="#000">d</text>
<text transform="translate(1322.38,2591.70) scale(1.0806,1)" font-size="41.59" font-weight="bold" fill="#000">resting</text>
<text transform="translate(1478.46,2593.70) scale(0.9821,1)" font-size="42.03" font-weight="bold" fill="#000">collagen</text>
<text transform="translate(1668.63,2592.20) scale(0.9911,1)" font-size="45.30" font-weight="bold" fill="#000">LPS</text>
<text transform="translate(1689.02,2643.60) scale(0.9602,1)" font-size="53.75" font-weight="normal" fill="#000">+</text>
<text transform="translate(1629.62,2690.20) scale(1.0485,1)" font-size="43.04" font-weight="bold" fill="#000">collagen</text>
<text transform="translate(1821.33,2594.60) scale(0.9991,1)" font-size="44.55" font-weight="bold" fill="#000">LPS</text>
</g>
</svg></body></html>
